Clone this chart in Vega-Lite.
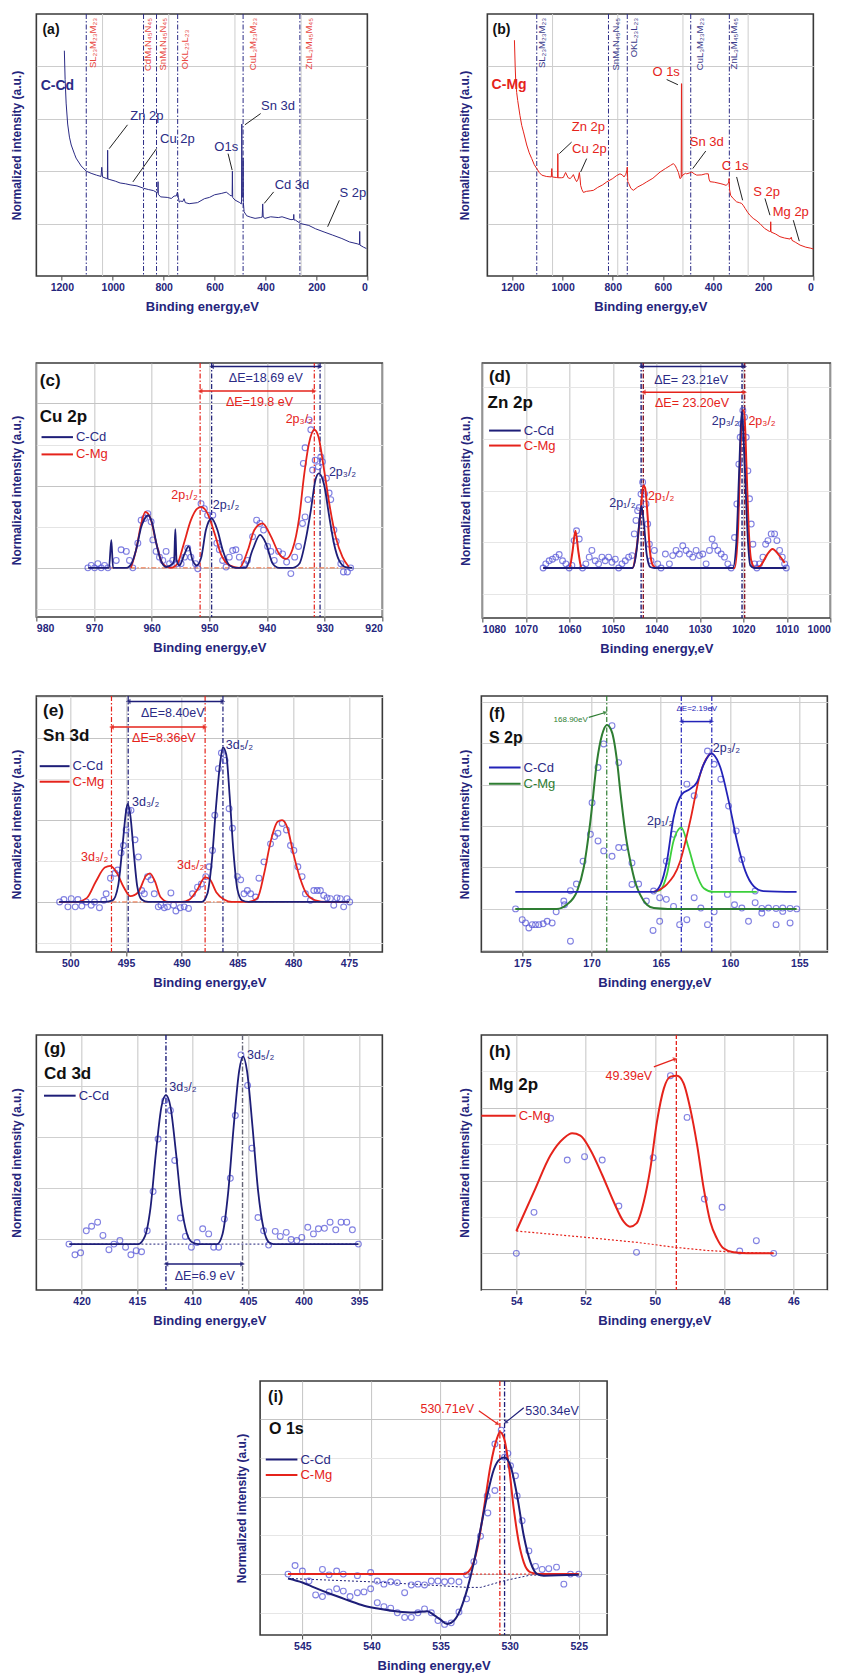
{
"$schema":"https://vega.github.io/schema/vega-lite/v6.json",
"padding":{"left":9,"top":12,"right":2,"bottom":0},
"background":"white",
"config":{
 "font":"Liberation Sans",
 "view":{"stroke":"#3a3a3a","strokeWidth":1.6},
 "axis":{"domain":false,"labelFont":"Liberation Sans","titleFont":"Liberation Sans","labelColor":"#25257c","titleColor":"#25257c","labelFontWeight":"bold","titleFontWeight":"bold","labelFontSize":10.5,"titleFontSize":13,"gridColor":"#cccccc","gridWidth":1,"tickColor":"#444444"},
 "axisX":{"labelPadding":2,"titlePadding":8,"grid":true,"labelAngle":0},
 "axisY":{"labels":false,"ticks":false,"grid":true,"titleFontSize":12}
},
"datasets":{
 "ab_grid":[{"x":1040},{"x":780},{"x":520},{"x":260}],
 "a_line":[{"x":1190,"y":86},{"x":1187,"y":75},{"x":1183,"y":66},{"x":1177,"y":58},{"x":1170,"y":53},{"x":1163,"y":50},{"x":1150,"y":46.5},{"x":1144,"y":45},{"x":1124,"y":42},{"x":1104,"y":40},{"x":1085,"y":39.2},{"x":1064,"y":38.5},{"x":1046,"y":38},{"x":1043,"y":41.5},{"x":1040,"y":37.8},{"x":1024,"y":37.2},{"x":1021,"y":37},{"x":1020,"y":48},{"x":1019,"y":37},{"x":1011,"y":36.8},{"x":990,"y":36.2},{"x":971,"y":35.5},{"x":950,"y":35.2},{"x":932,"y":34.8},{"x":905,"y":34.4},{"x":879,"y":33.5},{"x":860,"y":33},{"x":840,"y":32.6},{"x":826,"y":31.8},{"x":823,"y":32},{"x":822,"y":36},{"x":821,"y":31.2},{"x":812,"y":30.2},{"x":786,"y":30},{"x":770,"y":29.6},{"x":759,"y":30.5},{"x":750,"y":30.6},{"x":746,"y":32},{"x":742,"y":30},{"x":739,"y":28.2},{"x":733,"y":28.6},{"x":725,"y":28.4},{"x":720,"y":29.5},{"x":715,"y":28},{"x":700,"y":27.6},{"x":667,"y":28},{"x":640,"y":29.5},{"x":620,"y":30},{"x":600,"y":31},{"x":574,"y":31.5},{"x":554,"y":32},{"x":541,"y":31},{"x":534,"y":30.5},{"x":531,"y":31},{"x":530,"y":40},{"x":529,"y":30},{"x":520,"y":29},{"x":501,"y":28},{"x":495,"y":27.5},{"x":494,"y":29},{"x":493,"y":58},{"x":492,"y":30},{"x":489,"y":31},{"x":488,"y":45},{"x":487,"y":28},{"x":484,"y":24.5},{"x":474,"y":23},{"x":460,"y":22.5},{"x":441,"y":22},{"x":420,"y":22.3},{"x":413,"y":22.5},{"x":411,"y":27.5},{"x":409,"y":22.5},{"x":402,"y":22},{"x":380,"y":22.6},{"x":350,"y":22.3},{"x":335,"y":22.6},{"x":300,"y":21.5},{"x":290,"y":21.6},{"x":289,"y":23.5},{"x":288,"y":21.4},{"x":282,"y":21.3},{"x":262,"y":20},{"x":230,"y":19.3},{"x":203,"y":18},{"x":170,"y":16.8},{"x":136,"y":15.6},{"x":100,"y":14.3},{"x":70,"y":13},{"x":40,"y":12.3},{"x":31,"y":12},{"x":30,"y":17},{"x":29,"y":11.8},{"x":15,"y":11},{"x":4,"y":10.5}],
 "a_vl":[{"x":1104},{"x":879},{"x":828},{"x":745},{"x":488},{"x":265}],
 "a_sub":[{"x":1077,"y":98.5,"t":"SL₂₃M₂₃M₂₃"},{"x":861,"y":98.5,"t":"CdM₄N₄₅N₄₅"},{"x":803,"y":98.5,"t":"SnM₄N₄₅N₄₅"},{"x":717,"y":94,"t":"OKL₂₃L₂₃"},{"x":451,"y":98.5,"t":"CuL₃M₂₃M₂₃"},{"x":229,"y":98.5,"t":"ZnL₃M₄₅M₄₅"}],
 "a_lbl":[{"x":866,"y":61,"t":"Zn 2p"},{"x":746,"y":52.4,"t":"Cu 2p"},{"x":554,"y":49.2,"t":"O1s"},{"x":351,"y":64.7,"t":"Sn 3d"},{"x":296,"y":34.9,"t":"Cd 3d"},{"x":57,"y":31.5,"t":"S 2p"}],
 "a_lead":[{"x":942,"y":57.7,"x2":1014,"y2":48.6},{"x":828,"y":48.6,"x2":921,"y2":35.9},{"x":547,"y":46.7,"x2":531,"y2":40.4},{"x":419,"y":62,"x2":481,"y2":57.7},{"x":368,"y":32.1,"x2":405,"y2":27.7},{"x":110,"y":28.9,"x2":156,"y2":18.8}],
 "a_tag":[{"x":1276,"y":94,"t":"(a)"}],
 "a_name":[{"x":1283,"y":72.5,"t":"C-Cd"}],
 "b_line":[{"x":1192,"y":90},{"x":1189,"y":80},{"x":1187,"y":75},{"x":1183,"y":70},{"x":1179,"y":67},{"x":1170,"y":61.3},{"x":1163,"y":57.5},{"x":1156,"y":55},{"x":1143,"y":50},{"x":1133,"y":47},{"x":1123,"y":44.8},{"x":1113,"y":42.5},{"x":1103,"y":41},{"x":1093,"y":39.5},{"x":1083,"y":38.5},{"x":1065,"y":38},{"x":1045,"y":37.8},{"x":1043,"y":41},{"x":1041,"y":37.8},{"x":1025,"y":37.6},{"x":1020,"y":37.5},{"x":1019,"y":46.7},{"x":1018,"y":37.5},{"x":1005,"y":37.5},{"x":997,"y":37.6},{"x":988,"y":39.5},{"x":978,"y":37.5},{"x":970,"y":37.2},{"x":963,"y":37.8},{"x":957,"y":38.7},{"x":950,"y":37},{"x":944,"y":36},{"x":938,"y":37},{"x":933,"y":39.5},{"x":930,"y":37},{"x":928,"y":34.6},{"x":923,"y":33},{"x":917,"y":31.9},{"x":905,"y":32.3},{"x":890,"y":32.5},{"x":877,"y":32.7},{"x":860,"y":33.8},{"x":840,"y":34.8},{"x":824,"y":35.9},{"x":800,"y":37.2},{"x":785,"y":38.3},{"x":771,"y":39},{"x":762,"y":38.6},{"x":755,"y":37.8},{"x":748,"y":38.8},{"x":743,"y":40.5},{"x":742,"y":41.6},{"x":740,"y":36},{"x":736,"y":35.3},{"x":728,"y":33.5},{"x":718,"y":32.7},{"x":700,"y":34},{"x":680,"y":35},{"x":665,"y":35.9},{"x":640,"y":37.3},{"x":611,"y":39.7},{"x":590,"y":41},{"x":570,"y":42.2},{"x":558,"y":42.9},{"x":550,"y":42},{"x":545,"y":41},{"x":538,"y":39.5},{"x":532,"y":37.2},{"x":527,"y":37.5},{"x":526,"y":73.4},{"x":525,"y":73.4},{"x":524,"y":38},{"x":521,"y":38.5},{"x":510,"y":39.2},{"x":505,"y":39},{"x":495,"y":39.3},{"x":485,"y":39.7},{"x":475,"y":39},{"x":465,"y":38.5},{"x":445,"y":38.6},{"x":430,"y":39},{"x":419,"y":39},{"x":416,"y":37},{"x":412,"y":36},{"x":395,"y":35.8},{"x":372,"y":35.3},{"x":360,"y":35},{"x":348,"y":34.6},{"x":338,"y":35.5},{"x":336,"y":37.2},{"x":334,"y":33},{"x":330,"y":30.8},{"x":320,"y":29.6},{"x":306,"y":28.3},{"x":295,"y":28},{"x":286,"y":27.7},{"x":280,"y":27},{"x":272,"y":25.8},{"x":262,"y":24.3},{"x":253,"y":23.2},{"x":240,"y":22},{"x":225,"y":21},{"x":213,"y":20},{"x":195,"y":18.2},{"x":175,"y":17},{"x":171,"y":17},{"x":170,"y":20.7},{"x":169,"y":16.8},{"x":150,"y":16},{"x":133,"y":15},{"x":115,"y":14.5},{"x":93,"y":14.1},{"x":88,"y":14.8},{"x":85,"y":13.6},{"x":70,"y":12.8},{"x":53,"y":11.8},{"x":30,"y":11},{"x":10,"y":10.6},{"x":0,"y":10.3}],
 "b_vl":[{"x":1103},{"x":817},{"x":742},{"x":489},{"x":335}],
 "b_sub":[{"x":1081,"y":98.5,"t":"SL₂₃M₂₃M₂₃"},{"x":788,"y":98.5,"t":"SnM₄N₄₅N₄₅"},{"x":715,"y":98.5,"t":"OKL₂₃L₂₃"},{"x":452,"y":98.5,"t":"CuL₃M₂₃M₂₃"},{"x":316,"y":98.5,"t":"ZnL₃M₄₅M₄₅"}],
 "b_lbl":[{"x":897,"y":56.9,"t":"Zn 2p"},{"x":893,"y":48.6,"t":"Cu 2p"},{"x":587,"y":77.8,"t":"O 1s"},{"x":425,"y":51.1,"t":"Sn 3d"},{"x":312,"y":41.9,"t":"C 1s"},{"x":186,"y":32.1,"t":"S 2p"},{"x":90,"y":24.5,"t":"Mg 2p"}],
 "b_lead":[{"x":964,"y":51.1,"x2":1013,"y2":46.7},{"x":904,"y":44.8,"x2":928,"y2":39.7},{"x":585,"y":75,"x2":540,"y2":73},{"x":429,"y":47.7,"x2":481,"y2":41},{"x":306,"y":37.8,"x2":282,"y2":28.9},{"x":193,"y":29.6,"x2":173,"y2":23.2},{"x":80,"y":21.3,"x2":56,"y2":13.3}],
 "b_tag":[{"x":1279,"y":94,"t":"(b)"}],
 "b_name":[{"x":1283,"y":73,"t":"C-Mg"}],
 "c_cd":[{"x":971,"y":0},{"x":967.9,"y":0},{"x":967.4,"y":0},{"x":967.0,"y":0.34},{"x":966.7,"y":0},{"x":964.4,"y":0},{"x":963.5,"y":0.05},{"x":962.7,"y":0.22},{"x":961.8,"y":0.5},{"x":961.0,"y":0.62},{"x":960.6,"y":0.64},{"x":959.9,"y":0.54},{"x":959.2,"y":0.3},{"x":958.4,"y":0.09},{"x":957.5,"y":0.01},{"x":956.35,"y":0.05},{"x":956.1,"y":0.1},{"x":955.9,"y":0.47},{"x":955.7,"y":0.1},{"x":955.2,"y":0.03},{"x":954.3,"y":0.17},{"x":953.6,"y":0.26},{"x":952.9,"y":0.09},{"x":952.2,"y":0.03},{"x":951.4,"y":0.13},{"x":950.6,"y":0.46},{"x":949.6,"y":0.6},{"x":948.6,"y":0.46},{"x":947.7,"y":0.22},{"x":946.5,"y":0.03},{"x":945.4,"y":0},{"x":943.7,"y":0},{"x":942.5,"y":0.22},{"x":941.2,"y":0.4},{"x":940.2,"y":0.3},{"x":939.0,"y":0.05},{"x":937.9,"y":0},{"x":935.6,"y":0},{"x":934.4,"y":0.05},{"x":933.3,"y":0.34},{"x":932.4,"y":0.7},{"x":931.6,"y":1.07},{"x":931.0,"y":1.15},{"x":930.1,"y":1.01},{"x":929.2,"y":0.62},{"x":928.4,"y":0.3},{"x":927.5,"y":0.09},{"x":926.4,"y":0.01},{"x":925.2,"y":0}],
 "c_mg":[{"x":963.6,"y":0},{"x":962.7,"y":0.22},{"x":961.8,"y":0.54},{"x":961.1,"y":0.68},{"x":960.2,"y":0.6},{"x":959.2,"y":0.3},{"x":958.1,"y":0.05},{"x":956.7,"y":0},{"x":955.55,"y":0.05},{"x":954.4,"y":0.3},{"x":953.2,"y":0.58},{"x":952.1,"y":0.72},{"x":951.4,"y":0.74},{"x":950.3,"y":0.66},{"x":949.1,"y":0.42},{"x":948.0,"y":0.17},{"x":946.5,"y":0.03},{"x":944.8,"y":0},{"x":943.3,"y":0.22},{"x":942.2,"y":0.46},{"x":940.8,"y":0.54},{"x":939.3,"y":0.38},{"x":937.9,"y":0.17},{"x":936.7,"y":0.11},{"x":935.6,"y":0.22},{"x":934.4,"y":0.62},{"x":933.6,"y":1.11},{"x":932.7,"y":1.52},{"x":931.8,"y":1.68},{"x":931.1,"y":1.6},{"x":930.1,"y":1.19},{"x":929.2,"y":0.78},{"x":928.1,"y":0.38},{"x":926.9,"y":0.13},{"x":925.8,"y":0.01}],
 "c_pts":[{"x":971.06,"y":0},{"x":970.48,"y":0.03},{"x":969.9,"y":0},{"x":969.33,"y":0.05},{"x":968.75,"y":0},{"x":968.17,"y":0.03},{"x":967.6,"y":0},{"x":966.15,"y":0.09},{"x":965.3,"y":0.22},{"x":964.4,"y":0.2},{"x":963.85,"y":0.09},{"x":963.27,"y":0},{"x":962.4,"y":0.3},{"x":961.83,"y":0.58},{"x":961.25,"y":0.6},{"x":960.67,"y":0.66},{"x":960.1,"y":0.56},{"x":959.8,"y":0.34},{"x":959.23,"y":0.2},{"x":958.65,"y":0.13},{"x":958.07,"y":0.09},{"x":957.5,"y":0.2},{"x":956.9,"y":0.05},{"x":956.35,"y":0.09},{"x":955.65,"y":0.05},{"x":954.9,"y":0.05},{"x":954.3,"y":0.13},{"x":953.75,"y":0.24},{"x":953.2,"y":0.13},{"x":952.4,"y":0.05},{"x":952.0,"y":-0.01},{"x":951.44,"y":0.78},{"x":950.87,"y":0.72},{"x":950.3,"y":0.64},{"x":949.4,"y":0.64},{"x":948.7,"y":0.3},{"x":948.27,"y":0.22},{"x":947.7,"y":0.09},{"x":947.1,"y":0.01},{"x":946.54,"y":0.13},{"x":945.96,"y":0.21},{"x":945.4,"y":0.22},{"x":944.8,"y":0.13},{"x":943.95,"y":0.05},{"x":943.4,"y":0.09},{"x":942.5,"y":0.38},{"x":941.8,"y":0.58},{"x":941.23,"y":0.54},{"x":940.6,"y":0.46},{"x":939.9,"y":0.26},{"x":939.33,"y":0.2},{"x":938.75,"y":0.09},{"x":938.0,"y":0.2},{"x":937.3,"y":0.17},{"x":936.6,"y":0.07},{"x":935.87,"y":-0.07},{"x":935.2,"y":0.13},{"x":934.54,"y":0.26},{"x":933.85,"y":0.54},{"x":933.4,"y":0.62},{"x":932.9,"y":0.83},{"x":932.1,"y":1.19},{"x":931.65,"y":1.31},{"x":931.1,"y":1.23},{"x":930.67,"y":1.35},{"x":930.4,"y":1.29},{"x":929.7,"y":1.09},{"x":929.23,"y":0.91},{"x":928.95,"y":0.83},{"x":928.4,"y":0.46},{"x":928.0,"y":0.32},{"x":927.2,"y":0.05},{"x":926.75,"y":-0.05},{"x":926.06,"y":-0.05},{"x":925.5,"y":0},{"x":932.7,"y":1.8},{"x":932.4,"y":1.68},{"x":933.4,"y":1.46},{"x":933.7,"y":1.27}],
 "c_vr":[{"x":951.6},{"x":931.8}],
 "c_vn":[{"x":949.6},{"x":930.8}],
 "c_base":[{"x":971,"x2":925.5,"y":0}],
 "c_arrN":[{"x":949.6,"x2":930.8,"y":2.45}],
 "c_arrR":[{"x":951.6,"x2":931.8,"y":2.15}],
 "c_txN":[{"x":940.2,"y":2.31,"t":"ΔE=18.69 eV"},{"x":926.9,"y":1.17,"t":"2p₃/₂"},{"x":947.1,"y":0.76,"t":"2p₁/₂"}],
 "c_txR":[{"x":941.3,"y":2.02,"t":"ΔE=19.8 eV"},{"x":934.4,"y":1.81,"t":"2p₃/₂"},{"x":954.3,"y":0.89,"t":"2p₁/₂"}],
 "c_tag":[{"x":979.4,"y":2.27,"t":"(c)"},{"x":979.4,"y":1.83,"t":"Cu 2p"}],
 "c_legN":[{"x":979.1,"x2":973.65,"y":1.59,"t":"C-Cd"}],
 "c_legR":[{"x":979.1,"x2":973.65,"y":1.38,"t":"C-Mg"}],
 "d_cd":[{"x":1066,"y":0},{"x":1045.5,"y":0},{"x":1044.6,"y":0.3},{"x":1043.9,"y":0.9},{"x":1043.45,"y":1.2},{"x":1042.9,"y":0.9},{"x":1042.2,"y":0.25},{"x":1041.4,"y":0.02},{"x":1040.5,"y":0},{"x":1022.4,"y":0},{"x":1021.6,"y":0.5},{"x":1021.0,"y":1.8},{"x":1020.6,"y":2.7},{"x":1020.3,"y":3.05},{"x":1020.0,"y":2.6},{"x":1019.5,"y":1.6},{"x":1019.0,"y":0.6},{"x":1018.4,"y":0.05},{"x":1017.5,"y":0},{"x":1010.1,"y":0}],
 "d_mg":[{"x":1066,"y":0},{"x":1060,"y":0},{"x":1059.3,"y":0.3},{"x":1058.6,"y":0.72},{"x":1057.9,"y":0.3},{"x":1057.2,"y":0},{"x":1045.5,"y":0},{"x":1044.5,"y":0.4},{"x":1043.6,"y":1.1},{"x":1043.0,"y":1.6},{"x":1042.6,"y":1.55},{"x":1042.0,"y":1.0},{"x":1041.5,"y":0.35},{"x":1040.8,"y":0.05},{"x":1040,"y":0},{"x":1022,"y":0},{"x":1021.2,"y":0.8},{"x":1020.7,"y":2.2},{"x":1020.2,"y":3.05},{"x":1019.8,"y":3.05},{"x":1019.3,"y":2.0},{"x":1018.8,"y":0.8},{"x":1018.2,"y":0.15},{"x":1017.3,"y":0},{"x":1016,"y":0.05},{"x":1014.6,"y":0.25},{"x":1013.3,"y":0.37},{"x":1012.0,"y":0.27},{"x":1010.5,"y":0.1}],
 "d_pts":[{"x":1066.03,"y":0},{"x":1065.41,"y":0.08},{"x":1064.64,"y":0.14},{"x":1063.88,"y":0.17},{"x":1063.11,"y":0.21},{"x":1062.34,"y":0.26},{"x":1061.57,"y":0.14},{"x":1060.8,"y":0.08},{"x":1060.04,"y":0},{"x":1059.42,"y":0.05},{"x":1058.89,"y":0.53},{"x":1058.35,"y":0.72},{"x":1057.73,"y":0.56},{"x":1056.97,"y":0},{"x":1056.2,"y":0.08},{"x":1055.43,"y":0.21},{"x":1054.82,"y":0.34},{"x":1054.05,"y":0.14},{"x":1053.28,"y":0.08},{"x":1052.51,"y":0.21},{"x":1051.75,"y":0.14},{"x":1050.98,"y":0.21},{"x":1050.21,"y":0.11},{"x":1049.44,"y":0.17},{"x":1048.67,"y":0},{"x":1047.91,"y":0.08},{"x":1047.14,"y":0.14},{"x":1046.37,"y":0.21},{"x":1045.6,"y":0.24},{"x":1045.07,"y":0.66},{"x":1044.68,"y":0.92},{"x":1044.3,"y":1.11},{"x":1043.91,"y":1.17},{"x":1043.53,"y":1.43},{"x":1043.15,"y":1.66},{"x":1042.68,"y":1.43},{"x":1042.38,"y":1.24},{"x":1041.99,"y":0.85},{"x":1041.61,"y":0.46},{"x":1041.23,"y":0.14},{"x":1040.46,"y":0.34},{"x":1039.69,"y":0.08},{"x":1038.92,"y":0},{"x":1037.92,"y":0.27},{"x":1037.0,"y":0.08},{"x":1036.24,"y":0.24},{"x":1035.47,"y":0.34},{"x":1034.7,"y":0.27},{"x":1033.93,"y":0.43},{"x":1033.16,"y":0.34},{"x":1032.4,"y":0.27},{"x":1031.63,"y":0.21},{"x":1030.86,"y":0.34},{"x":1030.09,"y":0.24},{"x":1029.33,"y":0.27},{"x":1028.56,"y":0.08},{"x":1027.79,"y":0.34},{"x":1027.18,"y":0.56},{"x":1026.64,"y":0.43},{"x":1025.87,"y":0.34},{"x":1025.1,"y":0.27},{"x":1024.33,"y":0.21},{"x":1023.57,"y":0.08},{"x":1022.8,"y":0},{"x":1022.03,"y":0.59},{"x":1021.49,"y":1.24},{"x":1021.03,"y":2.01},{"x":1020.73,"y":2.53},{"x":1020.42,"y":2.79},{"x":1020.11,"y":3.05},{"x":1019.73,"y":2.92},{"x":1019.34,"y":2.53},{"x":1018.96,"y":1.88},{"x":1018.58,"y":1.34},{"x":1018.19,"y":0.85},{"x":1017.81,"y":0.46},{"x":1017.42,"y":0.08},{"x":1016.89,"y":0},{"x":1016.27,"y":0.08},{"x":1015.5,"y":0.21},{"x":1014.89,"y":0.46},{"x":1014.35,"y":0.53},{"x":1013.59,"y":0.66},{"x":1012.82,"y":0.66},{"x":1012.28,"y":0.53},{"x":1011.67,"y":0.34},{"x":1011.05,"y":0.21},{"x":1010.51,"y":0.08},{"x":1010.13,"y":0}],
 "d_vn":[{"x":1043.5},{"x":1020.3}],
 "d_vr":[{"x":1043.0},{"x":1019.7}],
 "d_arrN":[{"x":1043.5,"x2":1019.7,"y":3.9}],
 "d_arrR":[{"x":1043.0,"x2":1019.7,"y":3.4}],
 "d_txN":[{"x":1032,"y":3.64,"t":"ΔE= 23.21eV"},{"x":1024.1,"y":2.84,"t":"2p₃/₂"},{"x":1047.8,"y":1.25,"t":"2p₁/₂"}],
 "d_txR":[{"x":1031.8,"y":3.19,"t":"ΔE= 23.20eV"},{"x":1015.7,"y":2.84,"t":"2p₃/₂"},{"x":1038.9,"y":1.4,"t":"2p₁/₂"}],
 "d_tag":[{"x":1078.5,"y":3.69,"t":"(d)"},{"x":1078.8,"y":3.2,"t":"Zn 2p"}],
 "d_legN":[{"x":1078.46,"x2":1071.17,"y":2.66,"t":"C-Cd"}],
 "d_legR":[{"x":1078.46,"x2":1071.17,"y":2.37,"t":"C-Mg"}],
 "e_cd":[{"x":501,"y":0},{"x":497,"y":0},{"x":496.2,"y":0.02},{"x":495.7,"y":0.2},{"x":495.3,"y":0.7},{"x":495.0,"y":1.1},{"x":494.85,"y":1.2},{"x":494.6,"y":1.05},{"x":494.3,"y":0.6},{"x":494.0,"y":0.2},{"x":493.6,"y":0.03},{"x":493,"y":0},{"x":488.2,"y":0},{"x":487.7,"y":0.1},{"x":487.3,"y":0.5},{"x":486.9,"y":1.2},{"x":486.55,"y":1.7},{"x":486.3,"y":1.89},{"x":486.0,"y":1.8},{"x":485.7,"y":1.3},{"x":485.35,"y":0.6},{"x":485.0,"y":0.15},{"x":484.6,"y":0.02},{"x":484,"y":0},{"x":475,"y":0}],
 "e_mg":[{"x":501,"y":0},{"x":499.5,"y":0},{"x":498.5,"y":0.05},{"x":497.7,"y":0.25},{"x":496.9,"y":0.42},{"x":496.4,"y":0.44},{"x":495.8,"y":0.35},{"x":495.2,"y":0.18},{"x":494.6,"y":0.07},{"x":493.9,"y":0.12},{"x":493.2,"y":0.32},{"x":492.85,"y":0.35},{"x":492.4,"y":0.25},{"x":491.9,"y":0.06},{"x":491.2,"y":0},{"x":490,"y":0},{"x":489.3,"y":0.03},{"x":488.6,"y":0.15},{"x":487.9,"y":0.3},{"x":487.5,"y":0.28},{"x":486.9,"y":0.12},{"x":486.2,"y":0.03},{"x":485.5,"y":0},{"x":484,"y":0},{"x":483.2,"y":0.05},{"x":482.6,"y":0.35},{"x":482,"y":0.75},{"x":481.4,"y":0.98},{"x":481,"y":1.0},{"x":480.5,"y":0.9},{"x":480,"y":0.6},{"x":479.4,"y":0.3},{"x":478.8,"y":0.1},{"x":478,"y":0.02},{"x":477,"y":0},{"x":475,"y":0}],
 "e_pts":[{"x":500.95,"y":0},{"x":500.57,"y":0.03},{"x":500.21,"y":-0.06},{"x":499.91,"y":0.04},{"x":499.55,"y":-0.06},{"x":499.31,"y":0.03},{"x":498.96,"y":-0.05},{"x":498.57,"y":0},{"x":498.12,"y":-0.04},{"x":497.82,"y":0},{"x":497.38,"y":-0.07},{"x":496.99,"y":0.02},{"x":496.78,"y":0.1},{"x":496.39,"y":0.29},{"x":495.98,"y":0.35},{"x":495.74,"y":0.39},{"x":495.44,"y":0.6},{"x":495.23,"y":0.69},{"x":494.99,"y":0.88},{"x":494.78,"y":1.12},{"x":494.55,"y":1.12},{"x":494.19,"y":0.76},{"x":493.89,"y":0.55},{"x":493.59,"y":0.14},{"x":493.35,"y":0.1},{"x":493.06,"y":0.31},{"x":492.76,"y":0.27},{"x":492.46,"y":0.1},{"x":492.1,"y":-0.06},{"x":491.86,"y":-0.04},{"x":491.56,"y":-0.07},{"x":491.27,"y":-0.06},{"x":490.97,"y":0.11},{"x":490.73,"y":-0.04},{"x":490.52,"y":-0.11},{"x":490.13,"y":-0.07},{"x":489.78,"y":-0.06},{"x":489.39,"y":-0.08},{"x":489.03,"y":0.1},{"x":488.58,"y":0.18},{"x":488.23,"y":0.22},{"x":487.84,"y":0.31},{"x":487.54,"y":0.43},{"x":487.24,"y":0.63},{"x":487.03,"y":1.06},{"x":486.71,"y":1.63},{"x":486.44,"y":1.82},{"x":486.11,"y":1.73},{"x":485.75,"y":1.14},{"x":485.45,"y":0.9},{"x":485.01,"y":0.31},{"x":484.71,"y":0.27},{"x":484.41,"y":0.1},{"x":484.11,"y":0.14},{"x":483.82,"y":0.1},{"x":483.37,"y":0.06},{"x":483.07,"y":0.29},{"x":482.62,"y":0.49},{"x":482.03,"y":0.71},{"x":481.67,"y":0.8},{"x":481.37,"y":0.84},{"x":480.98,"y":0.96},{"x":480.6,"y":0.88},{"x":480.24,"y":0.69},{"x":479.94,"y":0.63},{"x":479.58,"y":0.43},{"x":479.2,"y":0.31},{"x":478.9,"y":0.1},{"x":478.45,"y":0.02},{"x":478.15,"y":0.14},{"x":477.85,"y":0.14},{"x":477.56,"y":0.14},{"x":477.26,"y":0.08},{"x":476.96,"y":0.05},{"x":476.66,"y":0.04},{"x":476.36,"y":-0.04},{"x":476.07,"y":0.05},{"x":475.77,"y":0.04},{"x":475.47,"y":-0.06},{"x":475.17,"y":0.04},{"x":474.93,"y":0}],
 "e_vr":[{"x":496.3},{"x":487.9}],
 "e_vn":[{"x":494.8},{"x":486.3}],
 "e_base":[{"x":501,"x2":475,"y":0}],
 "e_arrN":[{"x":494.8,"x2":486.3,"y":2.45}],
 "e_arrR":[{"x":496.3,"x2":487.9,"y":2.14}],
 "e_txN":[{"x":490.8,"y":2.31,"t":"ΔE=8.40eV"}],
 "e_txR":[{"x":491.6,"y":2.01,"t":"ΔE=8.36eV"},{"x":497.8,"y":0.55,"t":"3d₃/₂"},{"x":489.2,"y":0.45,"t":"3d₅/₂"}],
 "e_txNL":[{"x":486.05,"y":1.92,"t":"3d₅/₂"},{"x":494.45,"y":1.22,"t":"3d₃/₂"}],
 "e_tag":[{"x":502.44,"y":2.34,"t":"(e)"},{"x":502.44,"y":2.03,"t":"Sn 3d"}],
 "e_legN":[{"x":502.74,"x2":500.06,"y":1.66,"t":"C-Cd"}],
 "e_legR":[{"x":502.74,"x2":500.06,"y":1.47,"t":"C-Mg"}],
 "f_mg":[{"x":175.5,"y":0},{"x":172.5,"y":0},{"x":171.8,"y":0.1},{"x":171.04,"y":0.43},{"x":170.56,"y":1.0},{"x":170.08,"y":2.12},{"x":169.6,"y":3.57},{"x":169.24,"y":4.2},{"x":168.88,"y":4.44},{"x":168.52,"y":4.26},{"x":168.16,"y":3.57},{"x":167.9,"y":2.77},{"x":167.5,"y":1.7},{"x":167.2,"y":1.15},{"x":166.85,"y":0.65},{"x":166.5,"y":0.35},{"x":166.0,"y":0.1},{"x":165.5,"y":0.02},{"x":164.5,"y":0},{"x":155.2,"y":0}],
 "f_cd":[{"x":175.5,"y":0.41},{"x":165.52,"y":0.41},{"x":165.0,"y":0.6},{"x":164.56,"y":1.15},{"x":164.08,"y":2.2},{"x":163.47,"y":2.77},{"x":162.9,"y":2.89},{"x":162.4,"y":3.05},{"x":161.9,"y":3.49},{"x":161.36,"y":3.75},{"x":160.7,"y":3.41},{"x":160.1,"y":2.6},{"x":159.5,"y":1.64},{"x":158.9,"y":0.91},{"x":158.3,"y":0.55},{"x":157.6,"y":0.43},{"x":155.2,"y":0.41}],
 "f_g2":[{"x":165.52,"y":0.41},{"x":165.04,"y":0.45},{"x":164.56,"y":0.83},{"x":164.08,"y":1.64},{"x":163.52,"y":1.96},{"x":163.0,"y":1.48},{"x":162.5,"y":0.91},{"x":161.9,"y":0.5},{"x":161.2,"y":0.41},{"x":158.07,"y":0.41}],
 "f_r":[{"x":165.52,"y":0.41},{"x":164.56,"y":0.59},{"x":163.6,"y":1.15},{"x":162.88,"y":2.12},{"x":162.16,"y":3.25},{"x":161.56,"y":3.7},{"x":161.36,"y":3.75}],
 "f_pts":[{"x":175.48,"y":0},{"x":175.0,"y":-0.26},{"x":174.76,"y":-0.34},{"x":174.52,"y":-0.46},{"x":174.28,"y":-0.38},{"x":174.04,"y":-0.38},{"x":173.8,"y":-0.38},{"x":173.49,"y":-0.36},{"x":173.2,"y":-0.3},{"x":172.84,"y":-0.34},{"x":172.55,"y":-0.07},{"x":172.0,"y":0.19},{"x":171.95,"y":0.1},{"x":171.52,"y":-0.78},{"x":171.52,"y":0.44},{"x":171.09,"y":0.6},{"x":170.61,"y":1.15},{"x":170.08,"y":1.8},{"x":169.96,"y":2.56},{"x":169.53,"y":1.64},{"x":169.53,"y":3.41},{"x":169.12,"y":3.98},{"x":169.12,"y":1.4},{"x":168.52,"y":4.42},{"x":168.52,"y":1.27},{"x":168.04,"y":3.53},{"x":168.04,"y":1.48},{"x":167.63,"y":1.48},{"x":167.08,"y":1.11},{"x":167.08,"y":0.59},{"x":166.6,"y":0.6},{"x":166.04,"y":0.19},{"x":165.56,"y":-0.52},{"x":165.52,"y":0.43},{"x":165.08,"y":0.27},{"x":165.08,"y":-0.3},{"x":164.6,"y":0.23},{"x":164.6,"y":1.15},{"x":164.08,"y":0.06},{"x":164.08,"y":1.8},{"x":163.64,"y":-0.38},{"x":163.12,"y":-0.26},{"x":163.12,"y":3.01},{"x":162.59,"y":0.27},{"x":162.59,"y":2.73},{"x":162.11,"y":0.02},{"x":161.63,"y":3.81},{"x":161.63,"y":-0.38},{"x":161.15,"y":3.49},{"x":161.15,"y":-0.07},{"x":160.67,"y":3.13},{"x":160.19,"y":0.35},{"x":160.11,"y":2.48},{"x":159.68,"y":0.1},{"x":159.56,"y":1.88},{"x":159.15,"y":0.02},{"x":159.15,"y":1.19},{"x":158.67,"y":-0.3},{"x":158.19,"y":0.43},{"x":158.19,"y":0.15},{"x":157.71,"y":0.01},{"x":157.71,"y":-0.1},{"x":157.23,"y":0.02},{"x":156.68,"y":-0.38},{"x":156.68,"y":0.01},{"x":156.2,"y":-0.06},{"x":156.2,"y":0.02},{"x":155.67,"y":-0.34},{"x":155.67,"y":0.01},{"x":155.19,"y":0}],
 "f_vg":[{"x":168.9}],
 "f_vn":[{"x":163.52},{"x":161.32}],
 "f_arrN":[{"x":163.52,"x2":161.32,"y":4.52}],
 "f_txNs":[{"x":162.4,"y":4.82,"t":"ΔE=2.19eV"}],
 "f_txGs":[{"x":171.5,"y":4.56,"t":"168.90eV"}],
 "f_arrG":[{"x":170.2,"y":4.62,"x2":169.0,"y2":4.74}],
 "f_txNL":[{"x":161.25,"y":3.88,"t":"2p₃/₂"}],
 "f_txN":[{"x":165.04,"y":2.12,"t":"2p₁/₂"}],
 "f_tag":[{"x":177.4,"y":4.7,"t":"(f)"},{"x":177.4,"y":4.12,"t":"S 2p"}],
 "f_legN":[{"x":177.4,"x2":175.12,"y":3.41,"t":"C-Cd"}],
 "f_legG":[{"x":177.4,"x2":175.12,"y":3.02,"t":"C-Mg"}],
 "g_cd":[{"x":421.1,"y":-0.1},{"x":414.9,"y":-0.1},{"x":414.3,"y":0.05},{"x":413.8,"y":0.6},{"x":413.3,"y":1.7},{"x":412.8,"y":2.6},{"x":412.4,"y":2.82},{"x":412.0,"y":2.6},{"x":411.5,"y":1.7},{"x":411.0,"y":0.65},{"x":410.5,"y":0.1},{"x":410.0,"y":-0.07},{"x":409.5,"y":-0.1},{"x":407.8,"y":-0.1},{"x":407.3,"y":0.1},{"x":406.8,"y":0.9},{"x":406.3,"y":2.2},{"x":405.8,"y":3.3},{"x":405.45,"y":3.58},{"x":405.1,"y":3.3},{"x":404.6,"y":2.2},{"x":404.1,"y":0.95},{"x":403.6,"y":0.2},{"x":403.1,"y":-0.07},{"x":402.7,"y":-0.1},{"x":395.06,"y":-0.1}],
 "g_base":[{"x":421.1,"x2":395.06,"y":-0.1}],
 "g_pts":[{"x":421.14,"y":-0.1},{"x":420.6,"y":-0.31},{"x":420.09,"y":-0.27},{"x":419.58,"y":0.16},{"x":419.1,"y":0.25},{"x":418.56,"y":0.33},{"x":418.08,"y":0.07},{"x":417.54,"y":-0.21},{"x":417.09,"y":-0.1},{"x":416.55,"y":-0.03},{"x":416.04,"y":-0.16},{"x":415.56,"y":-0.31},{"x":415.08,"y":-0.23},{"x":414.6,"y":-0.25},{"x":414.09,"y":0.16},{"x":413.56,"y":0.93},{"x":413.11,"y":1.96},{"x":412.51,"y":2.71},{"x":412.0,"y":2.52},{"x":411.61,"y":1.54},{"x":411.1,"y":0.41},{"x":410.65,"y":0.05},{"x":410.11,"y":-0.16},{"x":409.6,"y":-0.07},{"x":409.09,"y":0.2},{"x":408.55,"y":0.1},{"x":408.1,"y":-0.16},{"x":407.65,"y":-0.16},{"x":407.14,"y":0.39},{"x":406.6,"y":1.19},{"x":406.15,"y":2.42},{"x":405.64,"y":3.61},{"x":405.04,"y":3.01},{"x":404.65,"y":1.78},{"x":404.11,"y":0.42},{"x":403.6,"y":0.16},{"x":403.15,"y":-0.12},{"x":402.55,"y":0.15},{"x":402.1,"y":0.05},{"x":401.56,"y":0.13},{"x":401.12,"y":-0.01},{"x":400.61,"y":-0.03},{"x":400.16,"y":0.03},{"x":399.62,"y":0.23},{"x":399.11,"y":0.1},{"x":398.66,"y":0.2},{"x":398.12,"y":0.21},{"x":397.61,"y":0.33},{"x":397.1,"y":0.18},{"x":396.62,"y":0.33},{"x":396.11,"y":0.33},{"x":395.6,"y":0.18},{"x":395.06,"y":-0.1}],
 "g_vn":[{"x":412.4}],
 "g_vg":[{"x":405.5}],
 "g_arrN":[{"x":412.4,"x2":405.5,"y":-0.49}],
 "g_txN":[{"x":408.9,"y":-0.72,"t":"ΔE=6.9 eV"}],
 "g_txNL":[{"x":412.1,"y":2.99,"t":"3d₃/₂"},{"x":405.1,"y":3.61,"t":"3d₅/₂"}],
 "g_tag":[{"x":423.39,"y":3.73,"t":"(g)"},{"x":423.39,"y":3.24,"t":"Cd 3d"}],
 "g_legN":[{"x":423.39,"x2":420.54,"y":2.81,"t":"C-Cd"}],
 "h_mg":[{"x":54,"y":0.307},{"x":53.49,"y":0.847},{"x":53.01,"y":1.35},{"x":52.63,"y":1.58},{"x":52.39,"y":1.648},{"x":52.15,"y":1.616},{"x":51.86,"y":1.419},{"x":51.52,"y":1.076},{"x":51.19,"y":0.709},{"x":50.9,"y":0.435},{"x":50.72,"y":0.366},{"x":50.53,"y":0.412},{"x":50.32,"y":0.709},{"x":50.13,"y":1.167},{"x":49.94,"y":1.808},{"x":49.74,"y":2.265},{"x":49.55,"y":2.426},{"x":49.36,"y":2.439},{"x":49.17,"y":2.334},{"x":48.98,"y":1.991},{"x":48.78,"y":1.487},{"x":48.59,"y":0.892},{"x":48.4,"y":0.435},{"x":48.21,"y":0.206},{"x":48.02,"y":0.069},{"x":47.73,"y":0.014},{"x":47.34,"y":0},{"x":46.57,"y":0}],
 "h_base":[{"x":54,"y":0.307},{"x":52,"y":0.22},{"x":50.5,"y":0.15},{"x":49.36,"y":0.08},{"x":48.5,"y":0.04},{"x":47.6,"y":0.014},{"x":46.57,"y":0}],
 "h_pts":[{"x":54,"y":0},{"x":53.49,"y":0.563},{"x":53.01,"y":1.854},{"x":52.53,"y":1.281},{"x":52.03,"y":1.327},{"x":51.52,"y":1.281},{"x":51.04,"y":0.65},{"x":50.53,"y":0.014},{"x":50.05,"y":1.313},{"x":49.55,"y":2.439},{"x":49.07,"y":1.867},{"x":48.57,"y":0.746},{"x":48.06,"y":0.632},{"x":47.55,"y":0.032},{"x":47.07,"y":0.174},{"x":46.57,"y":0}],
 "h_vr":[{"x":49.38}],
 "h_txR":[{"x":50.75,"y":2.43,"t":"49.39eV"}],
 "h_arrR":[{"x":50.03,"y":2.56,"x2":49.41,"y2":2.67}],
 "h_tag":[{"x":54.79,"y":2.77,"t":"(h)"},{"x":54.79,"y":2.31,"t":"Mg 2p"}],
 "h_legR":[{"x":55.01,"x2":54.02,"y":1.89,"t":"C-Mg"}],
 "i_mg":[{"x":546.04,"y":0},{"x":533.31,"y":0},{"x":532.83,"y":0.065},{"x":532.35,"y":0.323},{"x":531.87,"y":0.839},{"x":531.39,"y":1.398},{"x":530.9,"y":1.763},{"x":530.71,"y":1.837},{"x":530.42,"y":1.763},{"x":530.06,"y":1.398},{"x":529.7,"y":0.839},{"x":529.34,"y":0.409},{"x":528.98,"y":0.151},{"x":528.49,"y":0.022},{"x":527.77,"y":0},{"x":525,"y":0}],
 "i_cd":[{"x":546.04,"y":-0.056},{"x":545,"y":-0.108},{"x":544.16,"y":-0.172},{"x":542.95,"y":-0.258},{"x":541.75,"y":-0.335},{"x":540.54,"y":-0.409},{"x":539.34,"y":-0.452},{"x":538.13,"y":-0.482},{"x":536.93,"y":-0.495},{"x":535.96,"y":-0.48},{"x":535.48,"y":-0.529},{"x":535.0,"y":-0.589},{"x":534.52,"y":-0.645},{"x":534.04,"y":-0.602},{"x":533.55,"y":-0.452},{"x":533.07,"y":-0.194},{"x":532.59,"y":0.151},{"x":532.11,"y":0.581},{"x":531.63,"y":1.011},{"x":531.14,"y":1.355},{"x":530.71,"y":1.484},{"x":530.37,"y":1.505},{"x":529.94,"y":1.398},{"x":529.46,"y":1.011},{"x":528.98,"y":0.495},{"x":528.49,"y":0.151},{"x":528.01,"y":0},{"x":527.53,"y":-0.02},{"x":525,"y":-0.01}],
 "i_cdb":[{"x":546.04,"y":-0.056},{"x":540,"y":-0.1},{"x":535,"y":-0.15},{"x":533.07,"y":-0.172},{"x":532.1,"y":-0.172},{"x":530.4,"y":-0.086},{"x":528.5,"y":-0.013},{"x":525,"y":-0.01}],
 "i_mgb":[{"x":546.04,"x2":525,"y":0}],
 "i_pts":[{"x":546.04,"y":0},{"x":545.53,"y":0.11},{"x":545,"y":0.04},{"x":544.52,"y":-0.09},{"x":543.55,"y":0.06},{"x":543.07,"y":-0.01},{"x":542.52,"y":0.04},{"x":542.04,"y":0},{"x":541.02,"y":-0.02},{"x":540.06,"y":0.02},{"x":539.58,"y":-0.09},{"x":539.1,"y":-0.13},{"x":538.61,"y":-0.1},{"x":538.13,"y":-0.11},{"x":537.6,"y":-0.24},{"x":537.12,"y":-0.14},{"x":536.64,"y":-0.13},{"x":536.16,"y":-0.14},{"x":535.67,"y":-0.09},{"x":535.19,"y":-0.09},{"x":534.71,"y":-0.1},{"x":534.23,"y":-0.09},{"x":533.67,"y":-0.1},{"x":533.12,"y":-0.01},{"x":532.59,"y":0.16},{"x":532.11,"y":0.49},{"x":531.58,"y":0.79},{"x":531.07,"y":1.08},{"x":531.07,"y":1.68},{"x":530.61,"y":1.86},{"x":530.13,"y":1.56},{"x":529.58,"y":1.27},{"x":529.1,"y":0.69},{"x":528.61,"y":0.3},{"x":528.13,"y":0.1},{"x":527.65,"y":0.06},{"x":527.17,"y":0.07},{"x":526.61,"y":0.09},{"x":526.08,"y":-0.13},{"x":525.6,"y":0},{"x":525,"y":0},{"x":544.04,"y":-0.27},{"x":543.55,"y":-0.29},{"x":543.07,"y":-0.23},{"x":542.52,"y":-0.19},{"x":542.04,"y":-0.22},{"x":541.55,"y":-0.29},{"x":541.02,"y":-0.24},{"x":540.54,"y":-0.23},{"x":540.06,"y":-0.19},{"x":539.58,"y":-0.37},{"x":539.1,"y":-0.42},{"x":538.61,"y":-0.44},{"x":538.13,"y":-0.5},{"x":537.6,"y":-0.56},{"x":537.12,"y":-0.56},{"x":536.64,"y":-0.5},{"x":536.16,"y":-0.45},{"x":535.67,"y":-0.5},{"x":535.19,"y":-0.6},{"x":534.71,"y":-0.65},{"x":534.23,"y":-0.63},{"x":533.67,"y":-0.49},{"x":533.12,"y":-0.32},{"x":531.63,"y":1.01},{"x":530.37,"y":1.51},{"x":529.94,"y":1.4},{"x":529.46,"y":1.01}],
 "i_vr":[{"x":530.71}],
 "i_vn":[{"x":530.37}],
 "i_txR":[{"x":534.52,"y":2.13,"t":"530.71eV"}],
 "i_txN":[{"x":526.93,"y":2.11,"t":"530.34eV"}],
 "i_arrR":[{"x":532.23,"y":2.11,"x2":530.86,"y2":1.94}],
 "i_arrN":[{"x":528.98,"y":2.15,"x2":530.3,"y2":1.96}],
 "i_tag":[{"x":547.48,"y":2.29,"t":"(i)"},{"x":547.41,"y":1.88,"t":"O 1s"}],
 "i_legN":[{"x":547.65,"x2":545.36,"y":1.48,"t":"C-Cd"}],
 "i_legR":[{"x":547.65,"x2":545.36,"y":1.28,"t":"C-Mg"}]
},
"center":true,
"spacing":50,
"vconcat":[
{"spacing":42,"vconcat":[
{"spacing":37,"vconcat":[
{"spacing":46,"vconcat":[
{"spacing":88,"hconcat":[
{"width":331,"height":262,"layer":[
 {"data":{"name":"ab_grid"},"mark":{"type":"rule","color":"#cdcdcd","strokeWidth":1},"encoding":{"x":{"field":"x","type":"quantitative","scale":{"domain":[0,1300],"reverse":true,"nice":false,"zero":false}}}},
 {"data":{"name":"a_vl"},"mark":{"type":"rule","color":"#2b2b85","strokeWidth":1,"strokeDash":[5,2,1.5,2]},"encoding":{"x":{"field":"x","type":"quantitative","scale":{"domain":[0,1300],"reverse":true,"nice":false,"zero":false}}}},
 {"data":{"name":"a_line"},"mark":{"type":"line","color":"#2b2b85","strokeWidth":1},"encoding":{"x":{"field":"x","type":"quantitative","scale":{"domain":[0,1300],"reverse":true,"nice":false,"zero":false},"axis":{"values":[0,100,200,300,400,500,600,700,800,900,1000,1100,1200,1300],"format":"d","labelExpr":"datum.value % 200 === 0 ? datum.label : ''","grid":false,"tickSize":{"condition":{"test":"datum.value % 200 === 0","value":4},"value":2},"title":"Binding energy,eV"}},"y":{"field":"y","type":"quantitative","scale":{"domain":[0,100],"nice":false,"zero":false},"axis":{"values":[20,40,60,80],"title":"Normalized intensity (a.u.)","titlePadding":13}}}},
 {"data":{"name":"a_lead"},"mark":{"type":"rule","color":"#222222","strokeWidth":1},"encoding":{"x":{"field":"x","type":"quantitative","scale":{"domain":[0,1300],"reverse":true,"nice":false,"zero":false}},"y":{"field":"y","type":"quantitative","scale":{"domain":[0,100],"nice":false,"zero":false}},"x2":{"field":"x2"},"y2":{"field":"y2"}}},
 {"data":{"name":"a_sub"},"mark":{"type":"text","angle":270,"align":"right","baseline":"middle","fontSize":9.5,"color":"#e8453e"},"encoding":{"x":{"field":"x","type":"quantitative","scale":{"domain":[0,1300],"reverse":true,"nice":false,"zero":false}},"y":{"field":"y","type":"quantitative","scale":{"domain":[0,100],"nice":false,"zero":false}},"text":{"field":"t"}}},
 {"data":{"name":"a_lbl"},"mark":{"type":"text","align":"center","baseline":"middle","fontSize":13,"color":"#2b2b85"},"encoding":{"x":{"field":"x","type":"quantitative","scale":{"domain":[0,1300],"reverse":true,"nice":false,"zero":false}},"y":{"field":"y","type":"quantitative","scale":{"domain":[0,100],"nice":false,"zero":false}},"text":{"field":"t"}}},
 {"data":{"name":"a_tag"},"mark":{"type":"text","align":"left","baseline":"middle","fontSize":14,"fontWeight":"bold","color":"#111111"},"encoding":{"x":{"field":"x","type":"quantitative","scale":{"domain":[0,1300],"reverse":true,"nice":false,"zero":false}},"y":{"field":"y","type":"quantitative","scale":{"domain":[0,100],"nice":false,"zero":false}},"text":{"field":"t"}}},
 {"data":{"name":"a_name"},"mark":{"type":"text","align":"left","baseline":"middle","fontSize":14,"fontWeight":"bold","color":"#2b2b85"},"encoding":{"x":{"field":"x","type":"quantitative","scale":{"domain":[0,1300],"reverse":true,"nice":false,"zero":false}},"y":{"field":"y","type":"quantitative","scale":{"domain":[0,100],"nice":false,"zero":false}},"text":{"field":"t"}}}
]},
{"width":326,"height":262,"layer":[
 {"data":{"name":"ab_grid"},"mark":{"type":"rule","color":"#cdcdcd","strokeWidth":1},"encoding":{"x":{"field":"x","type":"quantitative","scale":{"domain":[0,1300],"reverse":true,"nice":false,"zero":false}}}},
 {"data":{"name":"b_vl"},"mark":{"type":"rule","color":"#2b2b85","strokeWidth":1,"strokeDash":[5,2,1.5,2]},"encoding":{"x":{"field":"x","type":"quantitative","scale":{"domain":[0,1300],"reverse":true,"nice":false,"zero":false}}}},
 {"data":{"name":"b_line"},"mark":{"type":"line","color":"#e5231b","strokeWidth":1},"encoding":{"x":{"field":"x","type":"quantitative","scale":{"domain":[0,1300],"reverse":true,"nice":false,"zero":false},"axis":{"values":[0,100,200,300,400,500,600,700,800,900,1000,1100,1200,1300],"format":"d","labelExpr":"datum.value % 200 === 0 ? datum.label : ''","grid":false,"tickSize":{"condition":{"test":"datum.value % 200 === 0","value":4},"value":2},"title":"Binding energy,eV"}},"y":{"field":"y","type":"quantitative","scale":{"domain":[0,100],"nice":false,"zero":false},"axis":{"values":[20,40,60,80],"title":"Normalized intensity (a.u.)","titlePadding":16}}}},
 {"data":{"name":"b_lead"},"mark":{"type":"rule","color":"#222222","strokeWidth":1},"encoding":{"x":{"field":"x","type":"quantitative","scale":{"domain":[0,1300],"reverse":true,"nice":false,"zero":false}},"y":{"field":"y","type":"quantitative","scale":{"domain":[0,100],"nice":false,"zero":false}},"x2":{"field":"x2"},"y2":{"field":"y2"}}},
 {"data":{"name":"b_sub"},"mark":{"type":"text","angle":270,"align":"right","baseline":"middle","fontSize":9.5,"color":"#3a3a8a"},"encoding":{"x":{"field":"x","type":"quantitative","scale":{"domain":[0,1300],"reverse":true,"nice":false,"zero":false}},"y":{"field":"y","type":"quantitative","scale":{"domain":[0,100],"nice":false,"zero":false}},"text":{"field":"t"}}},
 {"data":{"name":"b_lbl"},"mark":{"type":"text","align":"center","baseline":"middle","fontSize":13,"color":"#e5231b"},"encoding":{"x":{"field":"x","type":"quantitative","scale":{"domain":[0,1300],"reverse":true,"nice":false,"zero":false}},"y":{"field":"y","type":"quantitative","scale":{"domain":[0,100],"nice":false,"zero":false}},"text":{"field":"t"}}},
 {"data":{"name":"b_tag"},"mark":{"type":"text","align":"left","baseline":"middle","fontSize":14,"fontWeight":"bold","color":"#111111"},"encoding":{"x":{"field":"x","type":"quantitative","scale":{"domain":[0,1300],"reverse":true,"nice":false,"zero":false}},"y":{"field":"y","type":"quantitative","scale":{"domain":[0,100],"nice":false,"zero":false}},"text":{"field":"t"}}},
 {"data":{"name":"b_name"},"mark":{"type":"text","align":"left","baseline":"middle","fontSize":14,"fontWeight":"bold","color":"#e5231b"},"encoding":{"x":{"field":"x","type":"quantitative","scale":{"domain":[0,1300],"reverse":true,"nice":false,"zero":false}},"y":{"field":"y","type":"quantitative","scale":{"domain":[0,100],"nice":false,"zero":false}},"text":{"field":"t"}}}
]}
]},
{"spacing":74,"hconcat":[
{"width":346,"height":254,"layer":[
 {"data":{"name":"c_vr"},"mark":{"type":"rule","color":"#e5231b","strokeWidth":1.2,"strokeDash":[5,2,1.5,2]},"encoding":{"x":{"field":"x","type":"quantitative","scale":{"domain":[920,980],"reverse":true,"nice":false,"zero":false}}}},
 {"data":{"name":"c_vn"},"mark":{"type":"rule","color":"#1e1e78","strokeWidth":1.2,"strokeDash":[5,2,1.5,2]},"encoding":{"x":{"field":"x","type":"quantitative","scale":{"domain":[920,980],"reverse":true,"nice":false,"zero":false}}}},
 {"data":{"name":"c_base"},"mark":{"type":"rule","color":"#ee6a3a","strokeWidth":1,"strokeDash":[5,2,1.5,2]},"encoding":{"x":{"field":"x","type":"quantitative","scale":{"domain":[920,980],"reverse":true,"nice":false,"zero":false}},"x2":{"field":"x2"},"y":{"field":"y","type":"quantitative","scale":{"domain":[-0.598,2.492],"nice":false,"zero":false}}}},
 {"data":{"name":"c_pts"},"mark":{"type":"point","shape":"circle","filled":false,"color":"#4d4dd6","size":34,"strokeWidth":1.1},"encoding":{"x":{"field":"x","type":"quantitative","scale":{"domain":[920,980],"reverse":true,"nice":false,"zero":false},"axis":{"values":[920,925,930,935,940,945,950,955,960,965,970,975,980],"format":"d","labelExpr":"datum.value % 10 === 0 ? datum.label : ''","gridColor":{"condition":{"test":"datum.value % 10 === 0","value":"#c4c4c4"},"value":"#e4e4e4"},"tickSize":{"condition":{"test":"datum.value % 10 === 0","value":4},"value":2},"title":"Binding energy,eV"}},"y":{"field":"y","type":"quantitative","scale":{"domain":[-0.598,2.492],"nice":false,"zero":false},"axis":{"values":[-0.5,0,0.5,1,1.5,2],"gridColor":{"condition":{"test":"datum.value % 1 === 0","value":"#c4c4c4"},"value":"#e4e4e4"},"title":"Normalized intensity (a.u.)","titlePadding":13}}}},
 {"data":{"name":"c_mg"},"mark":{"type":"line","color":"#e5231b","strokeWidth":1.8,"interpolate":"monotone"},"encoding":{"x":{"field":"x","type":"quantitative","scale":{"domain":[920,980],"reverse":true,"nice":false,"zero":false}},"y":{"field":"y","type":"quantitative","scale":{"domain":[-0.598,2.492],"nice":false,"zero":false}}}},
 {"data":{"name":"c_cd"},"mark":{"type":"line","color":"#1e1e78","strokeWidth":1.8,"interpolate":"monotone"},"encoding":{"x":{"field":"x","type":"quantitative","scale":{"domain":[920,980],"reverse":true,"nice":false,"zero":false}},"y":{"field":"y","type":"quantitative","scale":{"domain":[-0.598,2.492],"nice":false,"zero":false}}}},
 {"data":{"name":"c_arrN"},"mark":{"type":"rule","color":"#1e1e78","strokeWidth":1.5},"encoding":{"x":{"field":"x","type":"quantitative","scale":{"domain":[920,980],"reverse":true,"nice":false,"zero":false}},"x2":{"field":"x2"},"y":{"field":"y","type":"quantitative","scale":{"domain":[-0.598,2.492],"nice":false,"zero":false}}}},
 {"data":{"name":"c_arrN"},"mark":{"type":"point","shape":"triangle-left","filled":true,"color":"#1e1e78","size":30},"encoding":{"x":{"field":"x","type":"quantitative","scale":{"domain":[920,980],"reverse":true,"nice":false,"zero":false}},"y":{"field":"y","type":"quantitative","scale":{"domain":[-0.598,2.492],"nice":false,"zero":false}}}},
 {"data":{"name":"c_arrN"},"mark":{"type":"point","shape":"triangle-right","filled":true,"color":"#1e1e78","size":30},"encoding":{"x":{"field":"x2","type":"quantitative","scale":{"domain":[920,980],"reverse":true,"nice":false,"zero":false}},"y":{"field":"y","type":"quantitative","scale":{"domain":[-0.598,2.492],"nice":false,"zero":false}}}},
 {"data":{"name":"c_arrR"},"mark":{"type":"rule","color":"#e5231b","strokeWidth":1.5},"encoding":{"x":{"field":"x","type":"quantitative","scale":{"domain":[920,980],"reverse":true,"nice":false,"zero":false}},"x2":{"field":"x2"},"y":{"field":"y","type":"quantitative","scale":{"domain":[-0.598,2.492],"nice":false,"zero":false}}}},
 {"data":{"name":"c_arrR"},"mark":{"type":"point","shape":"triangle-left","filled":true,"color":"#e5231b","size":30},"encoding":{"x":{"field":"x","type":"quantitative","scale":{"domain":[920,980],"reverse":true,"nice":false,"zero":false}},"y":{"field":"y","type":"quantitative","scale":{"domain":[-0.598,2.492],"nice":false,"zero":false}}}},
 {"data":{"name":"c_arrR"},"mark":{"type":"point","shape":"triangle-right","filled":true,"color":"#e5231b","size":30},"encoding":{"x":{"field":"x2","type":"quantitative","scale":{"domain":[920,980],"reverse":true,"nice":false,"zero":false}},"y":{"field":"y","type":"quantitative","scale":{"domain":[-0.598,2.492],"nice":false,"zero":false}}}},
 {"data":{"name":"c_txN"},"mark":{"type":"text","align":"center","baseline":"middle","fontSize":12.5,"color":"#2b2b85"},"encoding":{"x":{"field":"x","type":"quantitative","scale":{"domain":[920,980],"reverse":true,"nice":false,"zero":false}},"y":{"field":"y","type":"quantitative","scale":{"domain":[-0.598,2.492],"nice":false,"zero":false}},"text":{"field":"t"}}},
 {"data":{"name":"c_txR"},"mark":{"type":"text","align":"center","baseline":"middle","fontSize":12.5,"color":"#e5231b"},"encoding":{"x":{"field":"x","type":"quantitative","scale":{"domain":[920,980],"reverse":true,"nice":false,"zero":false}},"y":{"field":"y","type":"quantitative","scale":{"domain":[-0.598,2.492],"nice":false,"zero":false}},"text":{"field":"t"}}},
 {"data":{"name":"c_tag"},"mark":{"type":"text","align":"left","baseline":"middle","fontSize":17,"fontWeight":"bold","color":"#111111"},"encoding":{"x":{"field":"x","type":"quantitative","scale":{"domain":[920,980],"reverse":true,"nice":false,"zero":false}},"y":{"field":"y","type":"quantitative","scale":{"domain":[-0.598,2.492],"nice":false,"zero":false}},"text":{"field":"t"}}},
 {"data":{"name":"c_legN"},"mark":{"type":"rule","color":"#1e1e78","strokeWidth":2},"encoding":{"x":{"field":"x","type":"quantitative","scale":{"domain":[920,980],"reverse":true,"nice":false,"zero":false}},"x2":{"field":"x2"},"y":{"field":"y","type":"quantitative","scale":{"domain":[-0.598,2.492],"nice":false,"zero":false}}}},
 {"data":{"name":"c_legN"},"mark":{"type":"text","align":"left","baseline":"middle","fontSize":13,"dx":3,"color":"#2b2b85"},"encoding":{"x":{"field":"x2","type":"quantitative","scale":{"domain":[920,980],"reverse":true,"nice":false,"zero":false}},"y":{"field":"y","type":"quantitative","scale":{"domain":[-0.598,2.492],"nice":false,"zero":false}},"text":{"field":"t"}}},
 {"data":{"name":"c_legR"},"mark":{"type":"rule","color":"#e5231b","strokeWidth":2},"encoding":{"x":{"field":"x","type":"quantitative","scale":{"domain":[920,980],"reverse":true,"nice":false,"zero":false}},"x2":{"field":"x2"},"y":{"field":"y","type":"quantitative","scale":{"domain":[-0.598,2.492],"nice":false,"zero":false}}}},
 {"data":{"name":"c_legR"},"mark":{"type":"text","align":"left","baseline":"middle","fontSize":13,"dx":3,"color":"#e5231b"},"encoding":{"x":{"field":"x2","type":"quantitative","scale":{"domain":[920,980],"reverse":true,"nice":false,"zero":false}},"y":{"field":"y","type":"quantitative","scale":{"domain":[-0.598,2.492],"nice":false,"zero":false}},"text":{"field":"t"}}}
]},
{"width":348,"height":255,"layer":[
 {"data":{"name":"d_vn"},"mark":{"type":"rule","color":"#1e1e78","strokeWidth":1.4,"strokeDash":[5,2,1.5,2]},"encoding":{"x":{"field":"x","type":"quantitative","scale":{"domain":[1000,1080],"reverse":true,"nice":false,"zero":false}}}},
 {"data":{"name":"d_vr"},"mark":{"type":"rule","color":"#8a1a2a","strokeWidth":1.4,"strokeDash":[5,2,1.5,2]},"encoding":{"x":{"field":"x","type":"quantitative","scale":{"domain":[1000,1080],"reverse":true,"nice":false,"zero":false}}}},
 {"data":{"name":"d_pts"},"mark":{"type":"point","shape":"circle","filled":false,"color":"#4d4dd6","size":34,"strokeWidth":1.1},"encoding":{"x":{"field":"x","type":"quantitative","scale":{"domain":[1000,1080],"reverse":true,"nice":false,"zero":false},"axis":{"values":[1000,1005,1010,1015,1020,1025,1030,1035,1040,1045,1050,1055,1060,1065,1070,1075,1080],"format":"d","labelExpr":"datum.value % 10 === 0 ? datum.label : ''","gridColor":{"condition":{"test":"datum.value % 10 === 0","value":"#c4c4c4"},"value":"#e4e4e4"},"tickSize":{"condition":{"test":"datum.value % 10 === 0","value":4},"value":2},"title":"Binding energy,eV"}},"y":{"field":"y","type":"quantitative","scale":{"domain":[-0.968,3.968],"nice":false,"zero":false},"axis":{"values":[-0.5,0,0.5,1,1.5,2,2.5,3,3.5],"gridColor":{"condition":{"test":"datum.value % 1 === 0","value":"#c4c4c4"},"value":"#e6e6e6"},"title":"Normalized intensity (a.u.)","titlePadding":10}}}},
 {"data":{"name":"d_mg"},"mark":{"type":"line","color":"#e5231b","strokeWidth":2,"interpolate":"monotone"},"encoding":{"x":{"field":"x","type":"quantitative","scale":{"domain":[1000,1080],"reverse":true,"nice":false,"zero":false}},"y":{"field":"y","type":"quantitative","scale":{"domain":[-0.968,3.968],"nice":false,"zero":false}}}},
 {"data":{"name":"d_cd"},"mark":{"type":"line","color":"#1e1e78","strokeWidth":1.8,"interpolate":"monotone"},"encoding":{"x":{"field":"x","type":"quantitative","scale":{"domain":[1000,1080],"reverse":true,"nice":false,"zero":false}},"y":{"field":"y","type":"quantitative","scale":{"domain":[-0.968,3.968],"nice":false,"zero":false}}}},
 {"data":{"name":"d_arrN"},"mark":{"type":"rule","color":"#1e1e78","strokeWidth":1.5},"encoding":{"x":{"field":"x","type":"quantitative","scale":{"domain":[1000,1080],"reverse":true,"nice":false,"zero":false}},"x2":{"field":"x2"},"y":{"field":"y","type":"quantitative","scale":{"domain":[-0.968,3.968],"nice":false,"zero":false}}}},
 {"data":{"name":"d_arrN"},"mark":{"type":"point","shape":"triangle-left","filled":true,"color":"#1e1e78","size":30},"encoding":{"x":{"field":"x","type":"quantitative","scale":{"domain":[1000,1080],"reverse":true,"nice":false,"zero":false}},"y":{"field":"y","type":"quantitative","scale":{"domain":[-0.968,3.968],"nice":false,"zero":false}}}},
 {"data":{"name":"d_arrN"},"mark":{"type":"point","shape":"triangle-right","filled":true,"color":"#1e1e78","size":30},"encoding":{"x":{"field":"x2","type":"quantitative","scale":{"domain":[1000,1080],"reverse":true,"nice":false,"zero":false}},"y":{"field":"y","type":"quantitative","scale":{"domain":[-0.968,3.968],"nice":false,"zero":false}}}},
 {"data":{"name":"d_arrR"},"mark":{"type":"rule","color":"#e5231b","strokeWidth":1.5},"encoding":{"x":{"field":"x","type":"quantitative","scale":{"domain":[1000,1080],"reverse":true,"nice":false,"zero":false}},"x2":{"field":"x2"},"y":{"field":"y","type":"quantitative","scale":{"domain":[-0.968,3.968],"nice":false,"zero":false}}}},
 {"data":{"name":"d_arrR"},"mark":{"type":"point","shape":"triangle-left","filled":true,"color":"#e5231b","size":30},"encoding":{"x":{"field":"x","type":"quantitative","scale":{"domain":[1000,1080],"reverse":true,"nice":false,"zero":false}},"y":{"field":"y","type":"quantitative","scale":{"domain":[-0.968,3.968],"nice":false,"zero":false}}}},
 {"data":{"name":"d_arrR"},"mark":{"type":"point","shape":"triangle-right","filled":true,"color":"#e5231b","size":30},"encoding":{"x":{"field":"x2","type":"quantitative","scale":{"domain":[1000,1080],"reverse":true,"nice":false,"zero":false}},"y":{"field":"y","type":"quantitative","scale":{"domain":[-0.968,3.968],"nice":false,"zero":false}}}},
 {"data":{"name":"d_txN"},"mark":{"type":"text","align":"center","baseline":"middle","fontSize":12.5,"color":"#2b2b85"},"encoding":{"x":{"field":"x","type":"quantitative","scale":{"domain":[1000,1080],"reverse":true,"nice":false,"zero":false}},"y":{"field":"y","type":"quantitative","scale":{"domain":[-0.968,3.968],"nice":false,"zero":false}},"text":{"field":"t"}}},
 {"data":{"name":"d_txR"},"mark":{"type":"text","align":"center","baseline":"middle","fontSize":12.5,"color":"#e5231b"},"encoding":{"x":{"field":"x","type":"quantitative","scale":{"domain":[1000,1080],"reverse":true,"nice":false,"zero":false}},"y":{"field":"y","type":"quantitative","scale":{"domain":[-0.968,3.968],"nice":false,"zero":false}},"text":{"field":"t"}}},
 {"data":{"name":"d_tag"},"mark":{"type":"text","align":"left","baseline":"middle","fontSize":17,"fontWeight":"bold","color":"#111111"},"encoding":{"x":{"field":"x","type":"quantitative","scale":{"domain":[1000,1080],"reverse":true,"nice":false,"zero":false}},"y":{"field":"y","type":"quantitative","scale":{"domain":[-0.968,3.968],"nice":false,"zero":false}},"text":{"field":"t"}}},
 {"data":{"name":"d_legN"},"mark":{"type":"rule","color":"#1e1e78","strokeWidth":2},"encoding":{"x":{"field":"x","type":"quantitative","scale":{"domain":[1000,1080],"reverse":true,"nice":false,"zero":false}},"x2":{"field":"x2"},"y":{"field":"y","type":"quantitative","scale":{"domain":[-0.968,3.968],"nice":false,"zero":false}}}},
 {"data":{"name":"d_legN"},"mark":{"type":"text","align":"left","baseline":"middle","fontSize":13,"dx":3,"color":"#2b2b85"},"encoding":{"x":{"field":"x2","type":"quantitative","scale":{"domain":[1000,1080],"reverse":true,"nice":false,"zero":false}},"y":{"field":"y","type":"quantitative","scale":{"domain":[-0.968,3.968],"nice":false,"zero":false}},"text":{"field":"t"}}},
 {"data":{"name":"d_legR"},"mark":{"type":"rule","color":"#e5231b","strokeWidth":2},"encoding":{"x":{"field":"x","type":"quantitative","scale":{"domain":[1000,1080],"reverse":true,"nice":false,"zero":false}},"x2":{"field":"x2"},"y":{"field":"y","type":"quantitative","scale":{"domain":[-0.968,3.968],"nice":false,"zero":false}}}},
 {"data":{"name":"d_legR"},"mark":{"type":"text","align":"left","baseline":"middle","fontSize":13,"dx":3,"color":"#e5231b"},"encoding":{"x":{"field":"x2","type":"quantitative","scale":{"domain":[1000,1080],"reverse":true,"nice":false,"zero":false}},"y":{"field":"y","type":"quantitative","scale":{"domain":[-0.968,3.968],"nice":false,"zero":false}},"text":{"field":"t"}}}
]}
]}
]},
{"spacing":74,"hconcat":[
{"width":346,"height":256,"layer":[
 {"data":{"name":"e_vr"},"mark":{"type":"rule","color":"#e5231b","strokeWidth":1.2,"strokeDash":[5,2,1.5,2]},"encoding":{"x":{"field":"x","type":"quantitative","scale":{"domain":[472,503.04],"reverse":true,"nice":false,"zero":false}}}},
 {"data":{"name":"e_vn"},"mark":{"type":"rule","color":"#1e1e78","strokeWidth":1.2,"strokeDash":[5,2,1.5,2]},"encoding":{"x":{"field":"x","type":"quantitative","scale":{"domain":[472,503.04],"reverse":true,"nice":false,"zero":false}}}},
 {"data":{"name":"e_base"},"mark":{"type":"rule","color":"#ee6a3a","strokeWidth":1,"strokeDash":[5,2,1.5,2]},"encoding":{"x":{"field":"x","type":"quantitative","scale":{"domain":[472,503.04],"reverse":true,"nice":false,"zero":false}},"x2":{"field":"x2"},"y":{"field":"y","type":"quantitative","scale":{"domain":[-0.612,2.518],"nice":false,"zero":false}}}},
 {"data":{"name":"e_pts"},"mark":{"type":"point","shape":"circle","filled":false,"color":"#4d4dd6","size":34,"strokeWidth":1.1},"encoding":{"x":{"field":"x","type":"quantitative","scale":{"domain":[472,503.04],"reverse":true,"nice":false,"zero":false},"axis":{"values":[475,477.5,480,482.5,485,487.5,490,492.5,495,497.5,500,502.5],"format":"d","labelExpr":"datum.value % 5 === 0 ? datum.label : ''","gridColor":{"condition":{"test":"datum.value % 5 === 0","value":"#c4c4c4"},"value":"#e4e4e4"},"tickSize":{"condition":{"test":"datum.value % 5 === 0","value":4},"value":2},"title":"Binding energy,eV"}},"y":{"field":"y","type":"quantitative","scale":{"domain":[-0.612,2.518],"nice":false,"zero":false},"axis":{"values":[-0.5,0,0.5,1,1.5,2,2.5],"gridColor":{"condition":{"test":"datum.value % 1 === 0","value":"#c4c4c4"},"value":"#e4e4e4"},"title":"Normalized intensity (a.u.)","titlePadding":13}}}},
 {"data":{"name":"e_mg"},"mark":{"type":"line","color":"#e5231b","strokeWidth":1.8,"interpolate":"monotone"},"encoding":{"x":{"field":"x","type":"quantitative","scale":{"domain":[472,503.04],"reverse":true,"nice":false,"zero":false}},"y":{"field":"y","type":"quantitative","scale":{"domain":[-0.612,2.518],"nice":false,"zero":false}}}},
 {"data":{"name":"e_cd"},"mark":{"type":"line","color":"#1e1e78","strokeWidth":1.8,"interpolate":"monotone"},"encoding":{"x":{"field":"x","type":"quantitative","scale":{"domain":[472,503.04],"reverse":true,"nice":false,"zero":false}},"y":{"field":"y","type":"quantitative","scale":{"domain":[-0.612,2.518],"nice":false,"zero":false}}}},
 {"data":{"name":"e_arrN"},"mark":{"type":"rule","color":"#1e1e78","strokeWidth":1.5},"encoding":{"x":{"field":"x","type":"quantitative","scale":{"domain":[472,503.04],"reverse":true,"nice":false,"zero":false}},"x2":{"field":"x2"},"y":{"field":"y","type":"quantitative","scale":{"domain":[-0.612,2.518],"nice":false,"zero":false}}}},
 {"data":{"name":"e_arrN"},"mark":{"type":"point","shape":"triangle-left","filled":true,"color":"#1e1e78","size":30},"encoding":{"x":{"field":"x","type":"quantitative","scale":{"domain":[472,503.04],"reverse":true,"nice":false,"zero":false}},"y":{"field":"y","type":"quantitative","scale":{"domain":[-0.612,2.518],"nice":false,"zero":false}}}},
 {"data":{"name":"e_arrN"},"mark":{"type":"point","shape":"triangle-right","filled":true,"color":"#1e1e78","size":30},"encoding":{"x":{"field":"x2","type":"quantitative","scale":{"domain":[472,503.04],"reverse":true,"nice":false,"zero":false}},"y":{"field":"y","type":"quantitative","scale":{"domain":[-0.612,2.518],"nice":false,"zero":false}}}},
 {"data":{"name":"e_arrR"},"mark":{"type":"rule","color":"#e5231b","strokeWidth":1.5},"encoding":{"x":{"field":"x","type":"quantitative","scale":{"domain":[472,503.04],"reverse":true,"nice":false,"zero":false}},"x2":{"field":"x2"},"y":{"field":"y","type":"quantitative","scale":{"domain":[-0.612,2.518],"nice":false,"zero":false}}}},
 {"data":{"name":"e_arrR"},"mark":{"type":"point","shape":"triangle-left","filled":true,"color":"#e5231b","size":30},"encoding":{"x":{"field":"x","type":"quantitative","scale":{"domain":[472,503.04],"reverse":true,"nice":false,"zero":false}},"y":{"field":"y","type":"quantitative","scale":{"domain":[-0.612,2.518],"nice":false,"zero":false}}}},
 {"data":{"name":"e_arrR"},"mark":{"type":"point","shape":"triangle-right","filled":true,"color":"#e5231b","size":30},"encoding":{"x":{"field":"x2","type":"quantitative","scale":{"domain":[472,503.04],"reverse":true,"nice":false,"zero":false}},"y":{"field":"y","type":"quantitative","scale":{"domain":[-0.612,2.518],"nice":false,"zero":false}}}},
 {"data":{"name":"e_txN"},"mark":{"type":"text","align":"center","baseline":"middle","fontSize":12.5,"color":"#2b2b85"},"encoding":{"x":{"field":"x","type":"quantitative","scale":{"domain":[472,503.04],"reverse":true,"nice":false,"zero":false}},"y":{"field":"y","type":"quantitative","scale":{"domain":[-0.612,2.518],"nice":false,"zero":false}},"text":{"field":"t"}}},
 {"data":{"name":"e_txNL"},"mark":{"type":"text","align":"left","baseline":"middle","fontSize":12.5,"color":"#2b2b85"},"encoding":{"x":{"field":"x","type":"quantitative","scale":{"domain":[472,503.04],"reverse":true,"nice":false,"zero":false}},"y":{"field":"y","type":"quantitative","scale":{"domain":[-0.612,2.518],"nice":false,"zero":false}},"text":{"field":"t"}}},
 {"data":{"name":"e_txR"},"mark":{"type":"text","align":"center","baseline":"middle","fontSize":12.5,"color":"#e5231b"},"encoding":{"x":{"field":"x","type":"quantitative","scale":{"domain":[472,503.04],"reverse":true,"nice":false,"zero":false}},"y":{"field":"y","type":"quantitative","scale":{"domain":[-0.612,2.518],"nice":false,"zero":false}},"text":{"field":"t"}}},
 {"data":{"name":"e_tag"},"mark":{"type":"text","align":"left","baseline":"middle","fontSize":17,"fontWeight":"bold","color":"#111111"},"encoding":{"x":{"field":"x","type":"quantitative","scale":{"domain":[472,503.04],"reverse":true,"nice":false,"zero":false}},"y":{"field":"y","type":"quantitative","scale":{"domain":[-0.612,2.518],"nice":false,"zero":false}},"text":{"field":"t"}}},
 {"data":{"name":"e_legN"},"mark":{"type":"rule","color":"#1e1e78","strokeWidth":2},"encoding":{"x":{"field":"x","type":"quantitative","scale":{"domain":[472,503.04],"reverse":true,"nice":false,"zero":false}},"x2":{"field":"x2"},"y":{"field":"y","type":"quantitative","scale":{"domain":[-0.612,2.518],"nice":false,"zero":false}}}},
 {"data":{"name":"e_legN"},"mark":{"type":"text","align":"left","baseline":"middle","fontSize":13,"dx":3,"color":"#2b2b85"},"encoding":{"x":{"field":"x2","type":"quantitative","scale":{"domain":[472,503.04],"reverse":true,"nice":false,"zero":false}},"y":{"field":"y","type":"quantitative","scale":{"domain":[-0.612,2.518],"nice":false,"zero":false}},"text":{"field":"t"}}},
 {"data":{"name":"e_legR"},"mark":{"type":"rule","color":"#e5231b","strokeWidth":2},"encoding":{"x":{"field":"x","type":"quantitative","scale":{"domain":[472,503.04],"reverse":true,"nice":false,"zero":false}},"x2":{"field":"x2"},"y":{"field":"y","type":"quantitative","scale":{"domain":[-0.612,2.518],"nice":false,"zero":false}}}},
 {"data":{"name":"e_legR"},"mark":{"type":"text","align":"left","baseline":"middle","fontSize":13,"dx":3,"color":"#e5231b"},"encoding":{"x":{"field":"x2","type":"quantitative","scale":{"domain":[472,503.04],"reverse":true,"nice":false,"zero":false}},"y":{"field":"y","type":"quantitative","scale":{"domain":[-0.612,2.518],"nice":false,"zero":false}},"text":{"field":"t"}}}
]},
{"width":346,"height":256,"layer":[
 {"data":{"name":"f_vg"},"mark":{"type":"rule","color":"#2e7d32","strokeWidth":1.2,"strokeDash":[5,2,1.5,2]},"encoding":{"x":{"field":"x","type":"quantitative","scale":{"domain":[152.98,177.95],"reverse":true,"nice":false,"zero":false}}}},
 {"data":{"name":"f_vn"},"mark":{"type":"rule","color":"#2323b8","strokeWidth":1.2,"strokeDash":[5,2,1.5,2]},"encoding":{"x":{"field":"x","type":"quantitative","scale":{"domain":[152.98,177.95],"reverse":true,"nice":false,"zero":false}}}},
 {"data":{"name":"f_pts"},"mark":{"type":"point","shape":"circle","filled":false,"color":"#4d4dd6","size":34,"strokeWidth":1.1},"encoding":{"x":{"field":"x","type":"quantitative","scale":{"domain":[152.98,177.95],"reverse":true,"nice":false,"zero":false},"axis":{"values":[155,157.5,160,162.5,165,167.5,170,172.5,175,177.5],"format":"d","labelExpr":"datum.value % 5 === 0 ? datum.label : ''","gridColor":{"condition":{"test":"datum.value % 5 === 0","value":"#c4c4c4"},"value":"#e4e4e4"},"tickSize":{"condition":{"test":"datum.value % 5 === 0","value":4},"value":2},"title":"Binding energy,eV"}},"y":{"field":"y","type":"quantitative","scale":{"domain":[-1.04,5.137],"nice":false,"zero":false},"axis":{"values":[-1,0,1,2,3,4,5],"gridColor":"#cfcfcf","title":"Normalized intensity (a.u.)","titlePadding":10}}}},
 {"data":{"name":"f_mg"},"mark":{"type":"line","color":"#2e7d32","strokeWidth":2,"interpolate":"monotone"},"encoding":{"x":{"field":"x","type":"quantitative","scale":{"domain":[152.98,177.95],"reverse":true,"nice":false,"zero":false}},"y":{"field":"y","type":"quantitative","scale":{"domain":[-1.04,5.137],"nice":false,"zero":false}}}},
 {"data":{"name":"f_g2"},"mark":{"type":"line","color":"#3ccf3c","strokeWidth":1.8,"interpolate":"monotone"},"encoding":{"x":{"field":"x","type":"quantitative","scale":{"domain":[152.98,177.95],"reverse":true,"nice":false,"zero":false}},"y":{"field":"y","type":"quantitative","scale":{"domain":[-1.04,5.137],"nice":false,"zero":false}}}},
 {"data":{"name":"f_r"},"mark":{"type":"line","color":"#e5231b","strokeWidth":1.8,"interpolate":"monotone"},"encoding":{"x":{"field":"x","type":"quantitative","scale":{"domain":[152.98,177.95],"reverse":true,"nice":false,"zero":false}},"y":{"field":"y","type":"quantitative","scale":{"domain":[-1.04,5.137],"nice":false,"zero":false}}}},
 {"data":{"name":"f_cd"},"mark":{"type":"line","color":"#2323b8","strokeWidth":1.8,"interpolate":"monotone"},"encoding":{"x":{"field":"x","type":"quantitative","scale":{"domain":[152.98,177.95],"reverse":true,"nice":false,"zero":false}},"y":{"field":"y","type":"quantitative","scale":{"domain":[-1.04,5.137],"nice":false,"zero":false}}}},
 {"data":{"name":"f_arrN"},"mark":{"type":"rule","color":"#2323b8","strokeWidth":1.5},"encoding":{"x":{"field":"x","type":"quantitative","scale":{"domain":[152.98,177.95],"reverse":true,"nice":false,"zero":false}},"x2":{"field":"x2"},"y":{"field":"y","type":"quantitative","scale":{"domain":[-1.04,5.137],"nice":false,"zero":false}}}},
 {"data":{"name":"f_arrN"},"mark":{"type":"point","shape":"triangle-left","filled":true,"color":"#2323b8","size":26},"encoding":{"x":{"field":"x","type":"quantitative","scale":{"domain":[152.98,177.95],"reverse":true,"nice":false,"zero":false}},"y":{"field":"y","type":"quantitative","scale":{"domain":[-1.04,5.137],"nice":false,"zero":false}}}},
 {"data":{"name":"f_arrN"},"mark":{"type":"point","shape":"triangle-right","filled":true,"color":"#2323b8","size":26},"encoding":{"x":{"field":"x2","type":"quantitative","scale":{"domain":[152.98,177.95],"reverse":true,"nice":false,"zero":false}},"y":{"field":"y","type":"quantitative","scale":{"domain":[-1.04,5.137],"nice":false,"zero":false}}}},
 {"data":{"name":"f_arrG"},"mark":{"type":"rule","color":"#2e7d32","strokeWidth":1.2},"encoding":{"x":{"field":"x","type":"quantitative","scale":{"domain":[152.98,177.95],"reverse":true,"nice":false,"zero":false}},"y":{"field":"y","type":"quantitative","scale":{"domain":[-1.04,5.137],"nice":false,"zero":false}},"x2":{"field":"x2"},"y2":{"field":"y2"}}},
 {"data":{"name":"f_arrG"},"mark":{"type":"point","shape":"triangle-right","filled":true,"color":"#2e7d32","size":22,"angle":343},"encoding":{"x":{"field":"x2","type":"quantitative","scale":{"domain":[152.98,177.95],"reverse":true,"nice":false,"zero":false}},"y":{"field":"y2","type":"quantitative","scale":{"domain":[-1.04,5.137],"nice":false,"zero":false}}}},
 {"data":{"name":"f_txNs"},"mark":{"type":"text","align":"center","baseline":"middle","fontSize":8,"color":"#2323b8"},"encoding":{"x":{"field":"x","type":"quantitative","scale":{"domain":[152.98,177.95],"reverse":true,"nice":false,"zero":false}},"y":{"field":"y","type":"quantitative","scale":{"domain":[-1.04,5.137],"nice":false,"zero":false}},"text":{"field":"t"}}},
 {"data":{"name":"f_txGs"},"mark":{"type":"text","align":"center","baseline":"middle","fontSize":8,"color":"#2e7d32"},"encoding":{"x":{"field":"x","type":"quantitative","scale":{"domain":[152.98,177.95],"reverse":true,"nice":false,"zero":false}},"y":{"field":"y","type":"quantitative","scale":{"domain":[-1.04,5.137],"nice":false,"zero":false}},"text":{"field":"t"}}},
 {"data":{"name":"f_txNL"},"mark":{"type":"text","align":"left","baseline":"middle","fontSize":12.5,"color":"#2b2b85"},"encoding":{"x":{"field":"x","type":"quantitative","scale":{"domain":[152.98,177.95],"reverse":true,"nice":false,"zero":false}},"y":{"field":"y","type":"quantitative","scale":{"domain":[-1.04,5.137],"nice":false,"zero":false}},"text":{"field":"t"}}},
 {"data":{"name":"f_txN"},"mark":{"type":"text","align":"center","baseline":"middle","fontSize":12.5,"color":"#2b2b85"},"encoding":{"x":{"field":"x","type":"quantitative","scale":{"domain":[152.98,177.95],"reverse":true,"nice":false,"zero":false}},"y":{"field":"y","type":"quantitative","scale":{"domain":[-1.04,5.137],"nice":false,"zero":false}},"text":{"field":"t"}}},
 {"data":{"name":"f_tag"},"mark":{"type":"text","align":"left","baseline":"middle","fontSize":16,"fontWeight":"bold","color":"#111111"},"encoding":{"x":{"field":"x","type":"quantitative","scale":{"domain":[152.98,177.95],"reverse":true,"nice":false,"zero":false}},"y":{"field":"y","type":"quantitative","scale":{"domain":[-1.04,5.137],"nice":false,"zero":false}},"text":{"field":"t"}}},
 {"data":{"name":"f_legN"},"mark":{"type":"rule","color":"#2323b8","strokeWidth":2},"encoding":{"x":{"field":"x","type":"quantitative","scale":{"domain":[152.98,177.95],"reverse":true,"nice":false,"zero":false}},"x2":{"field":"x2"},"y":{"field":"y","type":"quantitative","scale":{"domain":[-1.04,5.137],"nice":false,"zero":false}}}},
 {"data":{"name":"f_legN"},"mark":{"type":"text","align":"left","baseline":"middle","fontSize":13,"dx":3,"color":"#2b2b85"},"encoding":{"x":{"field":"x2","type":"quantitative","scale":{"domain":[152.98,177.95],"reverse":true,"nice":false,"zero":false}},"y":{"field":"y","type":"quantitative","scale":{"domain":[-1.04,5.137],"nice":false,"zero":false}},"text":{"field":"t"}}},
 {"data":{"name":"f_legG"},"mark":{"type":"rule","color":"#2e7d32","strokeWidth":2},"encoding":{"x":{"field":"x","type":"quantitative","scale":{"domain":[152.98,177.95],"reverse":true,"nice":false,"zero":false}},"x2":{"field":"x2"},"y":{"field":"y","type":"quantitative","scale":{"domain":[-1.04,5.137],"nice":false,"zero":false}}}},
 {"data":{"name":"f_legG"},"mark":{"type":"text","align":"left","baseline":"middle","fontSize":13,"dx":3,"color":"#2e7d32"},"encoding":{"x":{"field":"x2","type":"quantitative","scale":{"domain":[152.98,177.95],"reverse":true,"nice":false,"zero":false}},"y":{"field":"y","type":"quantitative","scale":{"domain":[-1.04,5.137],"nice":false,"zero":false}},"text":{"field":"t"}}}
]}
]}
]},
{"spacing":74,"hconcat":[
{"width":346,"height":255,"layer":[
 {"data":{"name":"g_vn"},"mark":{"type":"rule","color":"#1e1e78","strokeWidth":1.4,"strokeDash":[5,2,1.5,2]},"encoding":{"x":{"field":"x","type":"quantitative","scale":{"domain":[392.9,424.08],"reverse":true,"nice":false,"zero":false}}}},
 {"data":{"name":"g_vg"},"mark":{"type":"rule","color":"#666677","strokeWidth":1.4,"strokeDash":[5,2,1.5,2]},"encoding":{"x":{"field":"x","type":"quantitative","scale":{"domain":[392.9,424.08],"reverse":true,"nice":false,"zero":false}}}},
 {"data":{"name":"g_base"},"mark":{"type":"rule","color":"#1e1e78","strokeWidth":1,"strokeDash":[2,2]},"encoding":{"x":{"field":"x","type":"quantitative","scale":{"domain":[392.9,424.08],"reverse":true,"nice":false,"zero":false}},"x2":{"field":"x2"},"y":{"field":"y","type":"quantitative","scale":{"domain":[-1,4],"nice":false,"zero":false}}}},
 {"data":{"name":"g_pts"},"mark":{"type":"point","shape":"circle","filled":false,"color":"#4d4dd6","size":34,"strokeWidth":1.1},"encoding":{"x":{"field":"x","type":"quantitative","scale":{"domain":[392.9,424.08],"reverse":true,"nice":false,"zero":false},"axis":{"values":[395,397.5,400,402.5,405,407.5,410,412.5,415,417.5,420,422.5],"format":"d","labelExpr":"datum.value % 5 === 0 ? datum.label : ''","gridColor":{"condition":{"test":"datum.value % 5 === 0","value":"#c4c4c4"},"value":"#e4e4e4"},"tickSize":{"condition":{"test":"datum.value % 5 === 0","value":4},"value":2},"title":"Binding energy,eV"}},"y":{"field":"y","type":"quantitative","scale":{"domain":[-1,4],"nice":false,"zero":false},"axis":{"values":[0,1,2,3],"gridColor":"#cfcfcf","title":"Normalized intensity (a.u.)","titlePadding":13}}}},
 {"data":{"name":"g_cd"},"mark":{"type":"line","color":"#1e1e78","strokeWidth":1.8,"interpolate":"monotone"},"encoding":{"x":{"field":"x","type":"quantitative","scale":{"domain":[392.9,424.08],"reverse":true,"nice":false,"zero":false}},"y":{"field":"y","type":"quantitative","scale":{"domain":[-1,4],"nice":false,"zero":false}}}},
 {"data":{"name":"g_arrN"},"mark":{"type":"rule","color":"#1e1e78","strokeWidth":1.5},"encoding":{"x":{"field":"x","type":"quantitative","scale":{"domain":[392.9,424.08],"reverse":true,"nice":false,"zero":false}},"x2":{"field":"x2"},"y":{"field":"y","type":"quantitative","scale":{"domain":[-1,4],"nice":false,"zero":false}}}},
 {"data":{"name":"g_arrN"},"mark":{"type":"point","shape":"triangle-left","filled":true,"color":"#1e1e78","size":30},"encoding":{"x":{"field":"x","type":"quantitative","scale":{"domain":[392.9,424.08],"reverse":true,"nice":false,"zero":false}},"y":{"field":"y","type":"quantitative","scale":{"domain":[-1,4],"nice":false,"zero":false}}}},
 {"data":{"name":"g_arrN"},"mark":{"type":"point","shape":"triangle-right","filled":true,"color":"#1e1e78","size":30},"encoding":{"x":{"field":"x2","type":"quantitative","scale":{"domain":[392.9,424.08],"reverse":true,"nice":false,"zero":false}},"y":{"field":"y","type":"quantitative","scale":{"domain":[-1,4],"nice":false,"zero":false}}}},
 {"data":{"name":"g_txN"},"mark":{"type":"text","align":"center","baseline":"middle","fontSize":12.5,"color":"#2b2b85"},"encoding":{"x":{"field":"x","type":"quantitative","scale":{"domain":[392.9,424.08],"reverse":true,"nice":false,"zero":false}},"y":{"field":"y","type":"quantitative","scale":{"domain":[-1,4],"nice":false,"zero":false}},"text":{"field":"t"}}},
 {"data":{"name":"g_txNL"},"mark":{"type":"text","align":"left","baseline":"middle","fontSize":12.5,"color":"#2b2b85"},"encoding":{"x":{"field":"x","type":"quantitative","scale":{"domain":[392.9,424.08],"reverse":true,"nice":false,"zero":false}},"y":{"field":"y","type":"quantitative","scale":{"domain":[-1,4],"nice":false,"zero":false}},"text":{"field":"t"}}},
 {"data":{"name":"g_tag"},"mark":{"type":"text","align":"left","baseline":"middle","fontSize":17,"fontWeight":"bold","color":"#111111"},"encoding":{"x":{"field":"x","type":"quantitative","scale":{"domain":[392.9,424.08],"reverse":true,"nice":false,"zero":false}},"y":{"field":"y","type":"quantitative","scale":{"domain":[-1,4],"nice":false,"zero":false}},"text":{"field":"t"}}},
 {"data":{"name":"g_legN"},"mark":{"type":"rule","color":"#1e1e78","strokeWidth":2},"encoding":{"x":{"field":"x","type":"quantitative","scale":{"domain":[392.9,424.08],"reverse":true,"nice":false,"zero":false}},"x2":{"field":"x2"},"y":{"field":"y","type":"quantitative","scale":{"domain":[-1,4],"nice":false,"zero":false}}}},
 {"data":{"name":"g_legN"},"mark":{"type":"text","align":"left","baseline":"middle","fontSize":13,"dx":3,"color":"#2b2b85"},"encoding":{"x":{"field":"x2","type":"quantitative","scale":{"domain":[392.9,424.08],"reverse":true,"nice":false,"zero":false}},"y":{"field":"y","type":"quantitative","scale":{"domain":[-1,4],"nice":false,"zero":false}},"text":{"field":"t"}}}
]},
{"width":346,"height":255,"layer":[
 {"data":{"name":"h_vr"},"mark":{"type":"rule","color":"#e5231b","strokeWidth":1.3,"strokeDash":[4,2]},"encoding":{"x":{"field":"x","type":"quantitative","scale":{"domain":[45.02,55.01],"reverse":true,"nice":false,"zero":false}}}},
 {"data":{"name":"h_base"},"mark":{"type":"line","color":"#e5231b","strokeWidth":1.2,"strokeDash":[2,2]},"encoding":{"x":{"field":"x","type":"quantitative","scale":{"domain":[45.02,55.01],"reverse":true,"nice":false,"zero":false}},"y":{"field":"y","type":"quantitative","scale":{"domain":[-0.503,2.998],"nice":false,"zero":false}}}},
 {"data":{"name":"h_pts"},"mark":{"type":"point","shape":"circle","filled":false,"color":"#4d4dd6","size":34,"strokeWidth":1.1},"encoding":{"x":{"field":"x","type":"quantitative","scale":{"domain":[45.02,55.01],"reverse":true,"nice":false,"zero":false},"axis":{"values":[46,47,48,49,50,51,52,53,54,55],"format":"d","labelExpr":"datum.value % 2 === 0 ? datum.label : ''","gridColor":{"condition":{"test":"datum.value % 2 === 0","value":"#c4c4c4"},"value":"#e4e4e4"},"tickSize":{"condition":{"test":"datum.value % 2 === 0","value":4},"value":2},"title":"Binding energy,eV"}},"y":{"field":"y","type":"quantitative","scale":{"domain":[-0.503,2.998],"nice":false,"zero":false},"axis":{"values":[-0.5,0,0.5,1,1.5,2,2.5],"gridColor":{"condition":{"test":"datum.value % 1 === 0","value":"#c4c4c4"},"value":"#e8e8e8"},"title":"Normalized intensity (a.u.)","titlePadding":10}}}},
 {"data":{"name":"h_mg"},"mark":{"type":"line","color":"#e5231b","strokeWidth":2,"interpolate":"monotone"},"encoding":{"x":{"field":"x","type":"quantitative","scale":{"domain":[45.02,55.01],"reverse":true,"nice":false,"zero":false}},"y":{"field":"y","type":"quantitative","scale":{"domain":[-0.503,2.998],"nice":false,"zero":false}}}},
 {"data":{"name":"h_arrR"},"mark":{"type":"rule","color":"#e5231b","strokeWidth":1.2},"encoding":{"x":{"field":"x","type":"quantitative","scale":{"domain":[45.02,55.01],"reverse":true,"nice":false,"zero":false}},"y":{"field":"y","type":"quantitative","scale":{"domain":[-0.503,2.998],"nice":false,"zero":false}},"x2":{"field":"x2"},"y2":{"field":"y2"}}},
 {"data":{"name":"h_arrR"},"mark":{"type":"point","shape":"triangle-right","filled":true,"color":"#e5231b","size":26,"angle":340},"encoding":{"x":{"field":"x2","type":"quantitative","scale":{"domain":[45.02,55.01],"reverse":true,"nice":false,"zero":false}},"y":{"field":"y2","type":"quantitative","scale":{"domain":[-0.503,2.998],"nice":false,"zero":false}}}},
 {"data":{"name":"h_txR"},"mark":{"type":"text","align":"center","baseline":"middle","fontSize":12.5,"color":"#e5231b"},"encoding":{"x":{"field":"x","type":"quantitative","scale":{"domain":[45.02,55.01],"reverse":true,"nice":false,"zero":false}},"y":{"field":"y","type":"quantitative","scale":{"domain":[-0.503,2.998],"nice":false,"zero":false}},"text":{"field":"t"}}},
 {"data":{"name":"h_tag"},"mark":{"type":"text","align":"left","baseline":"middle","fontSize":17,"fontWeight":"bold","color":"#111111"},"encoding":{"x":{"field":"x","type":"quantitative","scale":{"domain":[45.02,55.01],"reverse":true,"nice":false,"zero":false}},"y":{"field":"y","type":"quantitative","scale":{"domain":[-0.503,2.998],"nice":false,"zero":false}},"text":{"field":"t"}}},
 {"data":{"name":"h_legR"},"mark":{"type":"rule","color":"#e5231b","strokeWidth":2},"encoding":{"x":{"field":"x","type":"quantitative","scale":{"domain":[45.02,55.01],"reverse":true,"nice":false,"zero":false}},"x2":{"field":"x2"},"y":{"field":"y","type":"quantitative","scale":{"domain":[-0.503,2.998],"nice":false,"zero":false}}}},
 {"data":{"name":"h_legR"},"mark":{"type":"text","align":"left","baseline":"middle","fontSize":13,"dx":3,"color":"#e5231b"},"encoding":{"x":{"field":"x2","type":"quantitative","scale":{"domain":[45.02,55.01],"reverse":true,"nice":false,"zero":false}},"y":{"field":"y","type":"quantitative","scale":{"domain":[-0.503,2.998],"nice":false,"zero":false}},"text":{"field":"t"}}}
]}
]}
]},
{"width":347,"height":254,"layer":[
 {"data":{"name":"i_vr"},"mark":{"type":"rule","color":"#e5231b","strokeWidth":1.3,"strokeDash":[5,2,1.5,2]},"encoding":{"x":{"field":"x","type":"quantitative","scale":{"domain":[522.95,548.06],"reverse":true,"nice":false,"zero":false}}}},
 {"data":{"name":"i_vn"},"mark":{"type":"rule","color":"#1e1e78","strokeWidth":1.3,"strokeDash":[5,2,1.5,2]},"encoding":{"x":{"field":"x","type":"quantitative","scale":{"domain":[522.95,548.06],"reverse":true,"nice":false,"zero":false}}}},
 {"data":{"name":"i_mgb"},"mark":{"type":"rule","color":"#e5231b","strokeWidth":1,"strokeDash":[2,2]},"encoding":{"x":{"field":"x","type":"quantitative","scale":{"domain":[522.95,548.06],"reverse":true,"nice":false,"zero":false}},"x2":{"field":"x2"},"y":{"field":"y","type":"quantitative","scale":{"domain":[-0.787,2.495],"nice":false,"zero":false}}}},
 {"data":{"name":"i_cdb"},"mark":{"type":"line","color":"#1e1e78","strokeWidth":1,"strokeDash":[2,2]},"encoding":{"x":{"field":"x","type":"quantitative","scale":{"domain":[522.95,548.06],"reverse":true,"nice":false,"zero":false}},"y":{"field":"y","type":"quantitative","scale":{"domain":[-0.787,2.495],"nice":false,"zero":false}}}},
 {"data":{"name":"i_pts"},"mark":{"type":"point","shape":"circle","filled":false,"color":"#4d4dd6","size":34,"strokeWidth":1.1},"encoding":{"x":{"field":"x","type":"quantitative","scale":{"domain":[522.95,548.06],"reverse":true,"nice":false,"zero":false},"axis":{"values":[525,527.5,530,532.5,535,537.5,540,542.5,545,547.5],"format":"d","labelExpr":"datum.value % 5 === 0 ? datum.label : ''","gridColor":{"condition":{"test":"datum.value % 5 === 0","value":"#c4c4c4"},"value":"#e4e4e4"},"tickSize":{"condition":{"test":"datum.value % 5 === 0","value":4},"value":2},"title":"Binding energy,eV"}},"y":{"field":"y","type":"quantitative","scale":{"domain":[-0.787,2.495],"nice":false,"zero":false},"axis":{"values":[-0.5,0,0.5,1,1.5,2],"gridColor":{"condition":{"test":"datum.value % 1 === 0","value":"#c4c4c4"},"value":"#e6e6e6"},"title":"Normalized intensity (a.u.)","titlePadding":12}}}},
 {"data":{"name":"i_mg"},"mark":{"type":"line","color":"#e5231b","strokeWidth":2,"interpolate":"monotone"},"encoding":{"x":{"field":"x","type":"quantitative","scale":{"domain":[522.95,548.06],"reverse":true,"nice":false,"zero":false}},"y":{"field":"y","type":"quantitative","scale":{"domain":[-0.787,2.495],"nice":false,"zero":false}}}},
 {"data":{"name":"i_cd"},"mark":{"type":"line","color":"#1e1e78","strokeWidth":2,"interpolate":"monotone"},"encoding":{"x":{"field":"x","type":"quantitative","scale":{"domain":[522.95,548.06],"reverse":true,"nice":false,"zero":false}},"y":{"field":"y","type":"quantitative","scale":{"domain":[-0.787,2.495],"nice":false,"zero":false}}}},
 {"data":{"name":"i_arrR"},"mark":{"type":"rule","color":"#e5231b","strokeWidth":1.2},"encoding":{"x":{"field":"x","type":"quantitative","scale":{"domain":[522.95,548.06],"reverse":true,"nice":false,"zero":false}},"y":{"field":"y","type":"quantitative","scale":{"domain":[-0.787,2.495],"nice":false,"zero":false}},"x2":{"field":"x2"},"y2":{"field":"y2"}}},
 {"data":{"name":"i_arrR"},"mark":{"type":"point","shape":"triangle-right","filled":true,"color":"#e5231b","size":24,"angle":35},"encoding":{"x":{"field":"x2","type":"quantitative","scale":{"domain":[522.95,548.06],"reverse":true,"nice":false,"zero":false}},"y":{"field":"y2","type":"quantitative","scale":{"domain":[-0.787,2.495],"nice":false,"zero":false}}}},
 {"data":{"name":"i_arrN"},"mark":{"type":"rule","color":"#1e1e78","strokeWidth":1.2},"encoding":{"x":{"field":"x","type":"quantitative","scale":{"domain":[522.95,548.06],"reverse":true,"nice":false,"zero":false}},"y":{"field":"y","type":"quantitative","scale":{"domain":[-0.787,2.495],"nice":false,"zero":false}},"x2":{"field":"x2"},"y2":{"field":"y2"}}},
 {"data":{"name":"i_arrN"},"mark":{"type":"point","shape":"triangle-right","filled":true,"color":"#1e1e78","size":24,"angle":141},"encoding":{"x":{"field":"x2","type":"quantitative","scale":{"domain":[522.95,548.06],"reverse":true,"nice":false,"zero":false}},"y":{"field":"y2","type":"quantitative","scale":{"domain":[-0.787,2.495],"nice":false,"zero":false}}}},
 {"data":{"name":"i_txR"},"mark":{"type":"text","align":"center","baseline":"middle","fontSize":12.5,"color":"#e5231b"},"encoding":{"x":{"field":"x","type":"quantitative","scale":{"domain":[522.95,548.06],"reverse":true,"nice":false,"zero":false}},"y":{"field":"y","type":"quantitative","scale":{"domain":[-0.787,2.495],"nice":false,"zero":false}},"text":{"field":"t"}}},
 {"data":{"name":"i_txN"},"mark":{"type":"text","align":"center","baseline":"middle","fontSize":12.5,"color":"#2b2b85"},"encoding":{"x":{"field":"x","type":"quantitative","scale":{"domain":[522.95,548.06],"reverse":true,"nice":false,"zero":false}},"y":{"field":"y","type":"quantitative","scale":{"domain":[-0.787,2.495],"nice":false,"zero":false}},"text":{"field":"t"}}},
 {"data":{"name":"i_tag"},"mark":{"type":"text","align":"left","baseline":"middle","fontSize":16,"fontWeight":"bold","color":"#111111"},"encoding":{"x":{"field":"x","type":"quantitative","scale":{"domain":[522.95,548.06],"reverse":true,"nice":false,"zero":false}},"y":{"field":"y","type":"quantitative","scale":{"domain":[-0.787,2.495],"nice":false,"zero":false}},"text":{"field":"t"}}},
 {"data":{"name":"i_legN"},"mark":{"type":"rule","color":"#1e1e78","strokeWidth":2},"encoding":{"x":{"field":"x","type":"quantitative","scale":{"domain":[522.95,548.06],"reverse":true,"nice":false,"zero":false}},"x2":{"field":"x2"},"y":{"field":"y","type":"quantitative","scale":{"domain":[-0.787,2.495],"nice":false,"zero":false}}}},
 {"data":{"name":"i_legN"},"mark":{"type":"text","align":"left","baseline":"middle","fontSize":13,"dx":3,"color":"#2b2b85"},"encoding":{"x":{"field":"x2","type":"quantitative","scale":{"domain":[522.95,548.06],"reverse":true,"nice":false,"zero":false}},"y":{"field":"y","type":"quantitative","scale":{"domain":[-0.787,2.495],"nice":false,"zero":false}},"text":{"field":"t"}}},
 {"data":{"name":"i_legR"},"mark":{"type":"rule","color":"#e5231b","strokeWidth":2},"encoding":{"x":{"field":"x","type":"quantitative","scale":{"domain":[522.95,548.06],"reverse":true,"nice":false,"zero":false}},"x2":{"field":"x2"},"y":{"field":"y","type":"quantitative","scale":{"domain":[-0.787,2.495],"nice":false,"zero":false}}}},
 {"data":{"name":"i_legR"},"mark":{"type":"text","align":"left","baseline":"middle","fontSize":13,"dx":3,"color":"#e5231b"},"encoding":{"x":{"field":"x2","type":"quantitative","scale":{"domain":[522.95,548.06],"reverse":true,"nice":false,"zero":false}},"y":{"field":"y","type":"quantitative","scale":{"domain":[-0.787,2.495],"nice":false,"zero":false}},"text":{"field":"t"}}}
]}
]
}
